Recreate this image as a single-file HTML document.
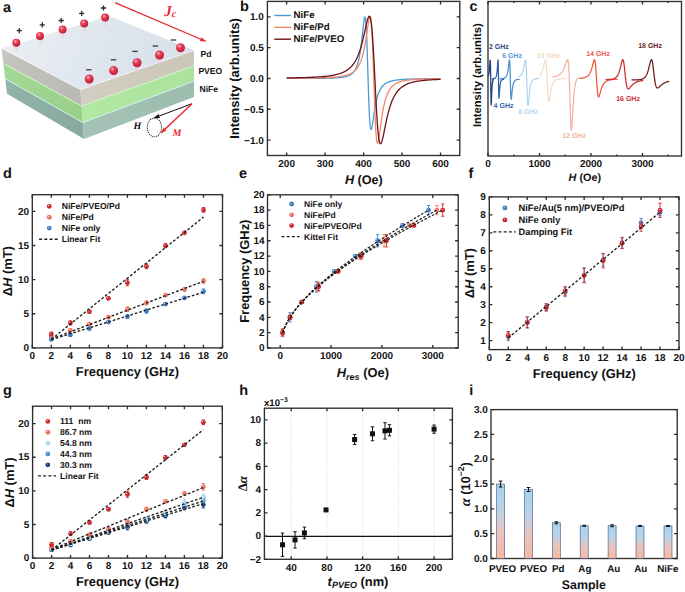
<!DOCTYPE html>
<html><head><meta charset="utf-8"><style>
html,body{margin:0;padding:0;background:#fff;}
svg{display:block;}
text{font-family:"Liberation Sans",sans-serif;font-weight:bold;fill:#111;text-rendering:geometricPrecision;}
</style></head><body>
<svg width="685" height="592" viewBox="0 0 685 592">
<defs><radialGradient id="g_red" cx="0.36" cy="0.33" r="0.72"><stop offset="0" stop-color="#ffffff" stop-opacity="0.85"/><stop offset="0.24" stop-color="#d3282c"/><stop offset="0.75" stop-color="#d3282c"/><stop offset="1" stop-color="#971c1f"/></radialGradient><radialGradient id="g_sal" cx="0.36" cy="0.33" r="0.72"><stop offset="0" stop-color="#ffffff" stop-opacity="0.85"/><stop offset="0.24" stop-color="#f2735e"/><stop offset="0.75" stop-color="#f2735e"/><stop offset="1" stop-color="#ae5243"/></radialGradient><radialGradient id="g_blu" cx="0.36" cy="0.33" r="0.72"><stop offset="0" stop-color="#ffffff" stop-opacity="0.85"/><stop offset="0.24" stop-color="#3d7fc9"/><stop offset="0.75" stop-color="#3d7fc9"/><stop offset="1" stop-color="#2b5b90"/></radialGradient><radialGradient id="g_lbl" cx="0.36" cy="0.33" r="0.72"><stop offset="0" stop-color="#ffffff" stop-opacity="0.85"/><stop offset="0.24" stop-color="#a6d8ee"/><stop offset="0.75" stop-color="#a6d8ee"/><stop offset="1" stop-color="#779bab"/></radialGradient><radialGradient id="g_mbl" cx="0.36" cy="0.33" r="0.72"><stop offset="0" stop-color="#ffffff" stop-opacity="0.85"/><stop offset="0.24" stop-color="#4a93d3"/><stop offset="0.75" stop-color="#4a93d3"/><stop offset="1" stop-color="#356997"/></radialGradient><radialGradient id="g_nav" cx="0.36" cy="0.33" r="0.72"><stop offset="0" stop-color="#ffffff" stop-opacity="0.85"/><stop offset="0.24" stop-color="#1d3a7f"/><stop offset="0.75" stop-color="#1d3a7f"/><stop offset="1" stop-color="#14295b"/></radialGradient><radialGradient id="g_sph" cx="0.38" cy="0.32" r="0.72"><stop offset="0" stop-color="#ffc4cc"/><stop offset="0.3" stop-color="#e8445c"/><stop offset="0.85" stop-color="#c8203a"/><stop offset="1" stop-color="#b01a30"/></radialGradient><linearGradient id="g_bar" x1="0" y1="0" x2="0" y2="1"><stop offset="0" stop-color="#a5d3ea"/><stop offset="0.35" stop-color="#b8d4e6"/><stop offset="0.62" stop-color="#e8c4c0"/><stop offset="1" stop-color="#f6b8a0"/></linearGradient></defs>
<rect width="685" height="592" fill="#fff"/>
<defs>
<linearGradient id="a_top" gradientUnits="userSpaceOnUse" x1="20" y1="30" x2="150" y2="90"><stop offset="0" stop-color="#eaeef3"/><stop offset="0.5" stop-color="#e0e7ee"/><stop offset="1" stop-color="#d9e1eb"/></linearGradient>
<linearGradient id="a_pdL" gradientUnits="userSpaceOnUse" x1="0" y1="50" x2="80" y2="100"><stop offset="0" stop-color="#c6c5c2"/><stop offset="1" stop-color="#b9b8b4"/></linearGradient>
<linearGradient id="a_pdR" gradientUnits="userSpaceOnUse" x1="84" y1="100" x2="194" y2="60"><stop offset="0" stop-color="#d2cec2"/><stop offset="1" stop-color="#cbc6b7"/></linearGradient>
<linearGradient id="a_gL" gradientUnits="userSpaceOnUse" x1="0" y1="65" x2="82" y2="115"><stop offset="0" stop-color="#a3d995"/><stop offset="1" stop-color="#98d08a"/></linearGradient>
<linearGradient id="a_gR" gradientUnits="userSpaceOnUse" x1="84" y1="115" x2="194" y2="75"><stop offset="0" stop-color="#b2e8a3"/><stop offset="1" stop-color="#abe29c"/></linearGradient>
<linearGradient id="a_nL" gradientUnits="userSpaceOnUse" x1="0" y1="80" x2="84" y2="130"><stop offset="0" stop-color="#93b5a9"/><stop offset="1" stop-color="#88aa9e"/></linearGradient>
<linearGradient id="a_nR" gradientUnits="userSpaceOnUse" x1="84" y1="130" x2="194" y2="90"><stop offset="0" stop-color="#a4c3b6"/><stop offset="1" stop-color="#9cbcae"/></linearGradient>
<radialGradient id="a_refl" cx="0.5" cy="0.5" r="0.5"><stop offset="0" stop-color="#f2c4cf" stop-opacity="0.55"/><stop offset="1" stop-color="#f4c8d0" stop-opacity="0"/></radialGradient>
<marker id="a_arR" viewBox="0 0 10 10" refX="9" refY="5" markerWidth="6" markerHeight="6" orient="auto" markerUnits="userSpaceOnUse"><path d="M0,1.5L10,5L0,8.5z" fill="#e8262b"/></marker>
<marker id="a_arK" viewBox="0 0 10 10" refX="9" refY="5" markerWidth="6" markerHeight="6" orient="auto" markerUnits="userSpaceOnUse"><path d="M0,1.5L10,5L0,8.5z" fill="#111"/></marker>
</defs>
<polygon points="1.6,48.2 80.4,89.5 81.6,105.98 3.4,63.38" fill="url(#a_pdL)"/>
<polygon points="3.4,63.38 81.6,105.98 82.8,122.57 5.21,78.66" fill="url(#a_gL)"/>
<polygon points="5.21,78.66 82.8,122.57 84,139 7,93.8" fill="url(#a_nL)"/>
<polygon points="80.4,89.5 194,50.2 194,65.88 81.6,105.98" fill="url(#a_pdR)"/>
<polygon points="81.6,105.98 194,65.88 194,81.18 82.8,122.57" fill="url(#a_gR)"/>
<polygon points="82.8,122.57 194,81.18 194,97 84,139" fill="url(#a_nR)"/>
<polyline points="3.4,63.38 81.6,105.98 194,65.88" fill="none" stroke="#d6f7c8" stroke-width="0.9"/>
<polyline points="5.21,78.66 82.8,122.57 194,81.18" fill="none" stroke="#d2f2f4" stroke-width="0.9"/>
<polygon points="109,16 1.6,48.2 80.4,89.5 194,50.2" fill="url(#a_top)"/>
<polyline points="1.6,48.2 80.4,89.5 194,50.2" fill="none" stroke="#f6f8fa" stroke-width="0.8"/>
<ellipse cx="16.6" cy="48.8" rx="3.2" ry="4.0" fill="url(#a_refl)"/>
<ellipse cx="40.3" cy="41.9" rx="3.2" ry="4.0" fill="url(#a_refl)"/>
<ellipse cx="62.9" cy="35.6" rx="3.2" ry="4.0" fill="url(#a_refl)"/>
<ellipse cx="84.5" cy="29.5" rx="3.2" ry="4.0" fill="url(#a_refl)"/>
<ellipse cx="105.4" cy="23.6" rx="3.2" ry="4.0" fill="url(#a_refl)"/>
<ellipse cx="89.5" cy="85" rx="3.2" ry="4.0" fill="url(#a_refl)"/>
<ellipse cx="113.9" cy="76.6" rx="3.2" ry="4.0" fill="url(#a_refl)"/>
<ellipse cx="137.3" cy="68.7" rx="3.2" ry="4.0" fill="url(#a_refl)"/>
<ellipse cx="159.8" cy="61" rx="3.2" ry="4.0" fill="url(#a_refl)"/>
<ellipse cx="180.8" cy="53.8" rx="3.2" ry="4.0" fill="url(#a_refl)"/>
<circle cx="16.3" cy="42.8" r="4.0" fill="url(#g_sph)"/>
<circle cx="40" cy="35.9" r="4.0" fill="url(#g_sph)"/>
<circle cx="62.6" cy="29.6" r="4.0" fill="url(#g_sph)"/>
<circle cx="84.2" cy="23.5" r="4.0" fill="url(#g_sph)"/>
<circle cx="105.1" cy="17.6" r="4.0" fill="url(#g_sph)"/>
<circle cx="89.2" cy="79" r="4.5" fill="url(#g_sph)"/>
<circle cx="113.6" cy="70.6" r="4.5" fill="url(#g_sph)"/>
<circle cx="137" cy="62.7" r="4.5" fill="url(#g_sph)"/>
<circle cx="159.5" cy="55" r="4.5" fill="url(#g_sph)"/>
<circle cx="180.5" cy="47.8" r="4.5" fill="url(#g_sph)"/>
<path d="M16.7 30.7h5.2M19.3 28.1v5.2" stroke="#2a2a2a" stroke-width="1.3"/>
<path d="M39.7 24.8h5.2M42.3 22.2v5.2" stroke="#2a2a2a" stroke-width="1.3"/>
<path d="M58.6 20.5h5.2M61.2 17.9v5.2" stroke="#2a2a2a" stroke-width="1.3"/>
<path d="M79.1 13.4h5.2M81.7 10.8v5.2" stroke="#2a2a2a" stroke-width="1.3"/>
<path d="M100.9 8h5.2M103.5 5.4v5.2" stroke="#2a2a2a" stroke-width="1.3"/>
<path d="M86.1 69.8h5.4" stroke="#3a3a3a" stroke-width="1.3"/>
<path d="M110.8 59.8h5.4" stroke="#3a3a3a" stroke-width="1.3"/>
<path d="M132.4 51.4h5.4" stroke="#3a3a3a" stroke-width="1.3"/>
<path d="M152.7 46h5.4" stroke="#3a3a3a" stroke-width="1.3"/>
<path d="M170.8 40h5.4" stroke="#3a3a3a" stroke-width="1.3"/>
<line x1="115" y1="2.6" x2="205.6" y2="41.2" stroke="#e8262b" stroke-width="1.2" marker-end="url(#a_arR)"/>
<text x="164.3" y="16.2" font-size="15" style="font-family:'Liberation Serif',serif;font-style:italic;font-weight:bold;fill:#e8262b">J<tspan font-size="10" dy="0.8">c</tspan></text>
<text x="200.6" y="57.1" font-size="8.6">Pd</text>
<text x="198.4" y="74.1" font-size="8.6">PVEO</text>
<text x="199.5" y="91.6" font-size="8.6">NiFe</text>
<line x1="192" y1="103.7" x2="154.2" y2="117.9" stroke="#111" stroke-width="1.0" marker-end="url(#a_arK)"/>
<line x1="192" y1="103.7" x2="161.2" y2="132.8" stroke="#e8262b" stroke-width="1.45" marker-end="url(#a_arR)"/>
<ellipse cx="154.4" cy="127.4" rx="7.1" ry="9.4" fill="none" stroke="#111" stroke-width="1.05" stroke-dasharray="1,1"/>
<text x="133.4" y="129.2" font-size="10" style="font-family:'Liberation Serif',serif;font-style:italic;font-weight:bold;fill:#111">H</text>
<text x="172.6" y="135.7" font-size="10" style="font-family:'Liberation Serif',serif;font-style:italic;font-weight:bold;fill:#e8262b">M</text>
<text x="240" y="11.1" font-size="14.5">b</text>
<rect x="267.4" y="1.4" width="192.4" height="154.1" fill="none" stroke="#2e2e2e" stroke-width="1.35"/>
<path d="M286.64 155.5v-3.1M286.64 1.4v3.1M325.12 155.5v-3.1M325.12 1.4v3.1M363.6 155.5v-3.1M363.6 1.4v3.1M402.08 155.5v-3.1M402.08 1.4v3.1M440.56 155.5v-3.1M440.56 1.4v3.1" stroke="#2e2e2e" stroke-width="1.35" fill="none"/>
<text x="286.64" y="167.3" font-size="10" text-anchor="middle">200</text>
<text x="325.12" y="167.3" font-size="10" text-anchor="middle">300</text>
<text x="363.6" y="167.3" font-size="10" text-anchor="middle">400</text>
<text x="402.08" y="167.3" font-size="10" text-anchor="middle">500</text>
<text x="440.56" y="167.3" font-size="10" text-anchor="middle">600</text>
<path d="M267.4 140.09h3.1M459.8 140.09h-3.1M267.4 109.27h3.1M459.8 109.27h-3.1M267.4 78.45h3.1M459.8 78.45h-3.1M267.4 47.63h3.1M459.8 47.63h-3.1M267.4 16.81h3.1M459.8 16.81h-3.1" stroke="#2e2e2e" stroke-width="1.35" fill="none"/>
<text x="263.8" y="143.59" font-size="10" text-anchor="end">&#8722;1.0</text>
<text x="263.8" y="112.77" font-size="10" text-anchor="end">&#8722;0.5</text>
<text x="263.8" y="81.95" font-size="10" text-anchor="end">0.0</text>
<text x="263.8" y="51.13" font-size="10" text-anchor="end">0.5</text>
<text x="263.8" y="20.31" font-size="10" text-anchor="end">1.0</text>
<polyline points="286.64,78.45 288.5,78.45 290.36,78.45 292.21,78.44 294.07,78.44 295.93,78.44 297.79,78.44 299.64,78.43 301.5,78.43 303.36,78.42 305.22,78.42 307.07,78.41 308.93,78.4 310.79,78.39 312.65,78.38 314.5,78.37 316.36,78.36 318.22,78.34 320.08,78.32 321.94,78.3 323.79,78.27 325.65,78.24 327.51,78.2 329.37,78.15 331.22,78.09 333.08,78.02 334.94,77.93 336.8,77.82 338.65,77.67 340.51,77.49 340.7,77.47 340.9,77.44 341.09,77.42 341.28,77.4 341.47,77.37 341.67,77.35 341.86,77.32 342.05,77.29 342.24,77.27 342.44,77.24 342.63,77.21 342.82,77.18 343.01,77.15 343.21,77.12 343.4,77.08 343.59,77.05 343.78,77.01 343.98,76.98 344.17,76.94 344.36,76.9 344.55,76.86 344.74,76.82 344.94,76.78 345.13,76.73 345.32,76.69 345.51,76.64 345.71,76.6 345.9,76.55 346.09,76.49 346.28,76.44 346.48,76.39 346.67,76.33 346.86,76.27 347.05,76.21 347.25,76.15 347.44,76.08 347.63,76.02 347.82,75.95 348.02,75.87 348.21,75.8 348.4,75.72 348.59,75.64 348.79,75.56 348.98,75.47 349.17,75.38 349.36,75.29 349.55,75.19 349.75,75.09 349.94,74.99 350.13,74.88 350.32,74.77 350.52,74.65 350.71,74.53 350.9,74.41 351.09,74.27 351.29,74.14 351.48,74 351.67,73.85 351.86,73.69 352.06,73.53 352.25,73.37 352.44,73.19 352.63,73.01 352.83,72.82 353.02,72.62 353.21,72.41 353.4,72.2 353.6,71.97 353.79,71.74 353.98,71.49 354.17,71.23 354.36,70.96 354.56,70.68 354.75,70.39 354.94,70.08 355.13,69.75 355.33,69.41 355.52,69.06 355.71,68.68 355.9,68.29 356.1,67.88 356.29,67.45 356.48,67 356.67,66.53 356.87,66.03 357.06,65.51 357.25,64.96 357.44,64.38 357.64,63.77 357.83,63.14 358.02,62.47 358.21,61.76 358.41,61.02 358.6,60.24 358.79,59.43 358.98,58.57 359.17,57.67 359.37,56.72 359.56,55.72 359.75,54.68 359.94,53.58 360.14,52.44 360.33,51.23 360.52,49.98 360.71,48.66 360.91,47.29 361.1,45.87 361.29,44.38 361.48,42.84 361.68,41.25 361.87,39.61 362.06,37.92 362.25,36.19 362.45,34.43 362.64,32.65 362.83,30.86 363.02,29.07 363.22,27.31 363.41,25.59 363.6,23.93 363.79,22.37 363.98,20.93 364.18,19.66 364.37,18.58 364.56,17.75 364.75,17.2 364.95,16.99 365.14,17.16 365.33,17.75 365.52,18.81 365.72,20.38 365.91,22.49 366.1,25.16 366.29,28.39 366.49,32.2 366.68,36.55 366.87,41.4 367.06,46.72 367.26,52.42 367.45,58.43 367.64,64.65 367.83,70.98 368.03,77.33 368.22,83.58 368.41,89.64 368.6,95.43 368.79,100.86 368.99,105.87 369.18,110.42 369.37,114.48 369.56,118.02 369.76,121.04 369.95,123.56 370.14,125.58 370.33,127.15 370.53,128.28 370.72,129.02 370.91,129.41 371.1,129.49 371.3,129.29 371.49,128.85 371.68,128.21 371.87,127.4 372.07,126.45 372.26,125.39 372.45,124.25 372.64,123.03 372.84,121.77 373.03,120.48 373.22,119.18 373.41,117.86 373.6,116.55 373.8,115.26 373.99,113.98 374.18,112.72 374.37,111.49 374.57,110.3 374.76,109.14 374.95,108.01 375.14,106.92 375.34,105.87 375.53,104.85 375.72,103.87 375.91,102.93 376.11,102.03 376.3,101.16 376.49,100.33 376.68,99.53 376.88,98.76 377.07,98.02 377.26,97.32 377.45,96.64 377.65,96 377.84,95.38 378.03,94.78 378.22,94.22 378.41,93.67 378.61,93.15 378.8,92.65 378.99,92.17 379.18,91.71 379.38,91.27 379.57,90.85 379.76,90.45 379.95,90.06 380.15,89.69 380.34,89.34 380.53,88.99 380.72,88.67 380.92,88.35 381.11,88.05 381.3,87.76 381.49,87.48 381.69,87.21 381.88,86.95 382.07,86.7 382.26,86.47 382.46,86.24 382.65,86.02 382.84,85.8 383.03,85.6 383.22,85.4 383.42,85.21 383.61,85.03 383.8,84.85 383.99,84.68 384.19,84.52 384.38,84.36 384.57,84.21 384.76,84.06 384.96,83.92 385.15,83.78 385.34,83.64 385.53,83.52 385.73,83.39 385.92,83.27 386.11,83.16 386.3,83.04 386.5,82.93 386.69,82.83 386.88,82.73 387.07,82.63 387.27,82.53 387.46,82.44 387.65,82.35 387.84,82.26 388.03,82.18 388.23,82.1 388.42,82.02 388.61,81.94 388.8,81.86 389,81.79 389.19,81.72 389.38,81.65 389.57,81.59 389.77,81.52 389.96,81.46 390.15,81.4 390.34,81.34 390.54,81.28 390.92,81.17 392.19,80.84 393.47,80.57 394.74,80.34 396.01,80.14 397.28,79.97 398.56,79.82 399.83,79.69 401.1,79.58 402.38,79.49 403.65,79.4 404.92,79.32 406.19,79.26 407.47,79.19 408.74,79.14 410.01,79.09 411.29,79.05 412.56,79.01 413.83,78.97 415.1,78.94 416.38,78.91 417.65,78.88 418.92,78.86 420.2,78.83 421.47,78.81 422.74,78.79 424.01,78.78 425.29,78.76 426.56,78.74 427.83,78.73 429.1,78.72 430.38,78.7 431.65,78.69 432.92,78.68 434.2,78.67 435.47,78.66 436.74,78.65 438.01,78.64 439.29,78.64 440.56,78.63" fill="none" stroke="#4a9ad6" stroke-width="1.3" stroke-linejoin="round"/>
<polyline points="286.64,78.27 288.5,78.26 290.36,78.25 292.21,78.24 294.07,78.22 295.93,78.21 297.79,78.2 299.64,78.18 301.5,78.16 303.36,78.14 305.22,78.12 307.07,78.1 308.93,78.07 310.79,78.04 312.65,78.01 314.5,77.98 316.36,77.94 318.22,77.89 320.08,77.84 321.94,77.79 323.79,77.72 325.65,77.65 327.51,77.57 329.37,77.47 331.22,77.36 333.08,77.23 334.94,77.08 336.8,76.9 338.65,76.69 340.51,76.44 340.7,76.41 340.9,76.38 341.09,76.35 341.28,76.32 341.47,76.29 341.67,76.26 341.86,76.22 342.05,76.19 342.24,76.15 342.44,76.12 342.63,76.08 342.82,76.05 343.01,76.01 343.21,75.97 343.4,75.93 343.59,75.9 343.78,75.85 343.98,75.81 344.17,75.77 344.36,75.73 344.55,75.68 344.74,75.64 344.94,75.59 345.13,75.55 345.32,75.5 345.51,75.45 345.71,75.4 345.9,75.35 346.09,75.3 346.28,75.24 346.48,75.19 346.67,75.13 346.86,75.07 347.05,75.01 347.25,74.95 347.44,74.89 347.63,74.83 347.82,74.76 348.02,74.7 348.21,74.63 348.4,74.56 348.59,74.48 348.79,74.41 348.98,74.34 349.17,74.26 349.36,74.18 349.55,74.1 349.75,74.01 349.94,73.93 350.13,73.84 350.32,73.75 350.52,73.66 350.71,73.56 350.9,73.47 351.09,73.36 351.29,73.26 351.48,73.16 351.67,73.05 351.86,72.93 352.06,72.82 352.25,72.7 352.44,72.58 352.63,72.45 352.83,72.33 353.02,72.19 353.21,72.06 353.4,71.92 353.6,71.77 353.79,71.62 353.98,71.47 354.17,71.31 354.36,71.15 354.56,70.98 354.75,70.81 354.94,70.63 355.13,70.45 355.33,70.26 355.52,70.06 355.71,69.86 355.9,69.65 356.1,69.44 356.29,69.22 356.48,68.99 356.67,68.75 356.87,68.51 357.06,68.26 357.25,68 357.44,67.73 357.64,67.45 357.83,67.16 358.02,66.86 358.21,66.56 358.41,66.24 358.6,65.91 358.79,65.57 358.98,65.21 359.17,64.85 359.37,64.47 359.56,64.08 359.75,63.67 359.94,63.25 360.14,62.82 360.33,62.37 360.52,61.9 360.71,61.41 360.91,60.91 361.1,60.39 361.29,59.85 361.48,59.29 361.68,58.71 361.87,58.11 362.06,57.49 362.25,56.84 362.45,56.17 362.64,55.48 362.83,54.76 363.02,54.01 363.22,53.24 363.41,52.44 363.6,51.61 363.79,50.75 363.98,49.86 364.18,48.95 364.37,48 364.56,47.02 364.75,46.01 364.95,44.96 365.14,43.89 365.33,42.78 365.52,41.65 365.72,40.48 365.91,39.28 366.1,38.06 366.29,36.81 366.49,35.54 366.68,34.24 366.87,32.94 367.06,31.61 367.26,30.28 367.45,28.95 367.64,27.63 367.83,26.32 368.03,25.03 368.22,23.78 368.41,22.58 368.6,21.43 368.79,20.36 368.99,19.38 369.18,18.51 369.37,17.78 369.56,17.19 369.76,16.78 369.95,16.57 370.14,16.58 370.33,16.85 370.53,17.39 370.72,18.23 370.91,19.39 371.1,20.9 371.3,22.79 371.49,25.05 371.68,27.71 371.87,30.77 372.07,34.23 372.26,38.09 372.45,42.32 372.64,46.91 372.84,51.83 373.03,57.03 373.22,62.47 373.41,68.11 373.6,73.87 373.8,79.7 373.99,85.54 374.18,91.33 374.37,96.99 374.57,102.47 374.76,107.72 374.95,112.69 375.14,117.33 375.34,121.62 375.53,125.53 375.72,129.04 375.91,132.14 376.11,134.82 376.3,137.11 376.49,138.99 376.68,140.5 376.88,141.64 377.07,142.45 377.26,142.95 377.45,143.15 377.65,143.1 377.84,142.81 378.03,142.32 378.22,141.65 378.41,140.81 378.61,139.85 378.8,138.76 378.99,137.59 379.18,136.34 379.38,135.02 379.57,133.66 379.76,132.27 379.95,130.86 380.15,129.43 380.34,128 380.53,126.57 380.72,125.16 380.92,123.76 381.11,122.38 381.3,121.02 381.49,119.69 381.69,118.39 381.88,117.13 382.07,115.89 382.26,114.69 382.46,113.52 382.65,112.39 382.84,111.29 383.03,110.22 383.22,109.2 383.42,108.2 383.61,107.24 383.8,106.31 383.99,105.42 384.19,104.55 384.38,103.72 384.57,102.91 384.76,102.14 384.96,101.39 385.15,100.67 385.34,99.98 385.53,99.31 385.73,98.66 385.92,98.04 386.11,97.44 386.3,96.87 386.5,96.31 386.69,95.78 386.88,95.26 387.07,94.76 387.27,94.29 387.46,93.82 387.65,93.38 387.84,92.95 388.03,92.54 388.23,92.14 388.42,91.75 388.61,91.38 388.8,91.02 389,90.68 389.19,90.34 389.38,90.02 389.57,89.71 389.77,89.41 389.96,89.12 390.15,88.84 390.34,88.56 390.54,88.3 390.92,87.8 392.19,86.37 393.47,85.21 394.74,84.26 396.01,83.48 397.28,82.83 398.56,82.29 399.83,81.83 401.1,81.45 402.38,81.12 403.65,80.83 404.92,80.59 406.19,80.38 407.47,80.19 408.74,80.03 410.01,79.89 411.29,79.76 412.56,79.65 413.83,79.55 415.1,79.46 416.38,79.38 417.65,79.31 418.92,79.25 420.2,79.19 421.47,79.14 422.74,79.09 424.01,79.05 425.29,79.01 426.56,78.97 427.83,78.94 429.1,78.91 430.38,78.88 431.65,78.86 432.92,78.83 434.2,78.81 435.47,78.79 436.74,78.77 438.01,78.75 439.29,78.74 440.56,78.72" fill="none" stroke="#f2876a" stroke-width="1.3" stroke-linejoin="round"/>
<polyline points="286.64,77.94 288.5,77.91 290.36,77.88 292.21,77.85 294.07,77.82 295.93,77.78 297.79,77.74 299.64,77.69 301.5,77.64 303.36,77.59 305.22,77.53 307.07,77.47 308.93,77.4 310.79,77.32 312.65,77.24 314.5,77.14 316.36,77.04 318.22,76.92 320.08,76.79 321.94,76.64 323.79,76.48 325.65,76.29 327.51,76.08 329.37,75.84 331.22,75.56 333.08,75.24 334.94,74.87 336.8,74.44 338.65,73.93 340.51,73.34 340.7,73.27 340.9,73.2 341.09,73.13 341.28,73.06 341.47,72.99 341.67,72.91 341.86,72.84 342.05,72.76 342.24,72.68 342.44,72.6 342.63,72.52 342.82,72.44 343.01,72.36 343.21,72.27 343.4,72.18 343.59,72.1 343.78,72 343.98,71.91 344.17,71.82 344.36,71.72 344.55,71.62 344.74,71.52 344.94,71.42 345.13,71.32 345.32,71.21 345.51,71.11 345.71,71 345.9,70.88 346.09,70.77 346.28,70.65 346.48,70.53 346.67,70.41 346.86,70.29 347.05,70.16 347.25,70.03 347.44,69.9 347.63,69.76 347.82,69.63 348.02,69.49 348.21,69.34 348.4,69.2 348.59,69.05 348.79,68.9 348.98,68.74 349.17,68.58 349.36,68.42 349.55,68.25 349.75,68.08 349.94,67.91 350.13,67.73 350.32,67.55 350.52,67.36 350.71,67.17 350.9,66.98 351.09,66.78 351.29,66.58 351.48,66.37 351.67,66.16 351.86,65.94 352.06,65.72 352.25,65.49 352.44,65.26 352.63,65.02 352.83,64.78 353.02,64.53 353.21,64.28 353.4,64.02 353.6,63.75 353.79,63.48 353.98,63.2 354.17,62.92 354.36,62.62 354.56,62.32 354.75,62.02 354.94,61.7 355.13,61.38 355.33,61.05 355.52,60.72 355.71,60.37 355.9,60.02 356.1,59.66 356.29,59.29 356.48,58.91 356.67,58.52 356.87,58.12 357.06,57.71 357.25,57.3 357.44,56.87 357.64,56.43 357.83,55.98 358.02,55.52 358.21,55.05 358.41,54.57 358.6,54.08 358.79,53.58 358.98,53.06 359.17,52.53 359.37,51.99 359.56,51.44 359.75,50.87 359.94,50.29 360.14,49.7 360.33,49.09 360.52,48.48 360.71,47.84 360.91,47.2 361.1,46.54 361.29,45.86 361.48,45.17 361.68,44.47 361.87,43.76 362.06,43.03 362.25,42.28 362.45,41.52 362.64,40.75 362.83,39.97 363.02,39.17 363.22,38.37 363.41,37.54 363.6,36.71 363.79,35.87 363.98,35.02 364.18,34.16 364.37,33.29 364.56,32.42 364.75,31.54 364.95,30.65 365.14,29.77 365.33,28.89 365.52,28 365.72,27.12 365.91,26.25 366.1,25.39 366.29,24.54 366.49,23.71 366.68,22.89 366.87,22.1 367.06,21.34 367.26,20.61 367.45,19.91 367.64,19.26 367.83,18.65 368.03,18.1 368.22,17.61 368.41,17.18 368.6,16.82 368.79,16.54 368.99,16.35 369.18,16.25 369.37,16.25 369.56,16.36 369.76,16.58 369.95,16.93 370.14,17.41 370.33,18.02 370.53,18.79 370.72,19.7 370.91,20.77 371.1,22.01 371.3,23.42 371.49,25 371.68,26.75 371.87,28.69 372.07,30.8 372.26,33.09 372.45,35.56 372.64,38.2 372.84,41.01 373.03,43.98 373.22,47.1 373.41,50.37 373.6,53.78 373.8,57.3 373.99,60.93 374.18,64.65 374.37,68.45 374.57,72.3 374.76,76.19 374.95,80.11 375.14,84.02 375.34,87.92 375.53,91.78 375.72,95.59 375.91,99.33 376.11,102.98 376.3,106.52 376.49,109.94 376.68,113.23 376.88,116.38 377.07,119.37 377.26,122.19 377.45,124.85 377.65,127.33 377.84,129.63 378.03,131.75 378.22,133.68 378.41,135.43 378.61,137 378.8,138.39 378.99,139.61 379.18,140.66 379.38,141.54 379.57,142.27 379.76,142.85 379.95,143.28 380.15,143.58 380.34,143.74 380.53,143.79 380.72,143.73 380.92,143.56 381.11,143.3 381.3,142.95 381.49,142.52 381.69,142.01 381.88,141.44 382.07,140.8 382.26,140.11 382.46,139.38 382.65,138.6 382.84,137.79 383.03,136.94 383.22,136.07 383.42,135.17 383.61,134.26 383.8,133.33 383.99,132.39 384.19,131.44 384.38,130.49 384.57,129.53 384.76,128.57 384.96,127.61 385.15,126.66 385.34,125.71 385.53,124.77 385.73,123.84 385.92,122.92 386.11,122.01 386.3,121.11 386.5,120.22 386.69,119.34 386.88,118.48 387.07,117.63 387.27,116.8 387.46,115.98 387.65,115.18 387.84,114.39 388.03,113.62 388.23,112.86 388.42,112.12 388.61,111.39 388.8,110.68 389,109.99 389.19,109.31 389.38,108.64 389.57,107.99 389.77,107.36 389.96,106.74 390.15,106.13 390.34,105.54 390.54,104.96 390.92,103.84 392.19,100.52 393.47,97.69 394.74,95.29 396.01,93.24 397.28,91.5 398.56,90.01 399.83,88.73 401.1,87.62 402.38,86.67 403.65,85.84 404.92,85.12 406.19,84.48 407.47,83.93 408.74,83.44 410.01,83 411.29,82.62 412.56,82.28 413.83,81.97 415.1,81.69 416.38,81.45 417.65,81.22 418.92,81.02 420.2,80.84 421.47,80.68 422.74,80.53 424.01,80.39 425.29,80.26 426.56,80.15 427.83,80.04 429.1,79.95 430.38,79.86 431.65,79.78 432.92,79.7 434.2,79.63 435.47,79.57 436.74,79.51 438.01,79.45 439.29,79.4 440.56,79.35" fill="none" stroke="#6e1216" stroke-width="1.3" stroke-linejoin="round"/>
<line x1="274.3" y1="15.5" x2="291" y2="15.5" stroke="#4a9ad6" stroke-width="1.4"/>
<text x="293.6" y="17.8" font-size="9.7" text-anchor="start" >NiFe</text>
<line x1="274.3" y1="27.35" x2="291" y2="27.35" stroke="#f2876a" stroke-width="1.4"/>
<text x="293.6" y="29.65" font-size="9.7" text-anchor="start" >NiFe/Pd</text>
<line x1="274.3" y1="39.2" x2="291" y2="39.2" stroke="#6e1216" stroke-width="1.4"/>
<text x="293.6" y="41.5" font-size="9.7" text-anchor="start" >NiFe/PVEO</text>
<text transform="translate(239.3,78.5) rotate(-90)" x="0" y="0" font-size="13" text-anchor="middle" >Intensity (arb.units)</text>
<text x="363.9" y="184.2" font-size="12.6" text-anchor="middle" ><tspan font-style="italic">H</tspan> (Oe)</text>
<text x="469.6" y="11.1" font-size="14.5">c</text>
<rect x="488" y="1.5" width="193.5" height="154.5" fill="none" stroke="#2e2e2e" stroke-width="1.35"/>
<path d="M488 156v-3.1M488 1.5v3.1M539.5 156v-3.1M539.5 1.5v3.1M591.01 156v-3.1M591.01 1.5v3.1M642.51 156v-3.1M642.51 1.5v3.1" stroke="#2e2e2e" stroke-width="1.35" fill="none"/>
<text x="488" y="167.1" font-size="10" text-anchor="middle">0</text>
<text x="539.5" y="167.1" font-size="10" text-anchor="middle">1000</text>
<text x="591.01" y="167.1" font-size="10" text-anchor="middle">2000</text>
<text x="642.51" y="167.1" font-size="10" text-anchor="middle">3000</text>
<path d="M513.75 156v-1.6M513.75 1.5v1.6M565.26 156v-1.6M565.26 1.5v1.6M616.76 156v-1.6M616.76 1.5v1.6M668.26 156v-1.6M668.26 1.5v1.6" stroke="#2e2e2e" stroke-width="1.35" fill="none"/>
<text transform="translate(481.2,75.2) rotate(-90)" x="0" y="0" font-size="11.2" text-anchor="middle" >Intensity (arb.units)</text>
<text x="584.8" y="181.3" font-size="10.8" text-anchor="middle" ><tspan font-style="italic">H</tspan> (Oe)</text>
<polyline points="488,76.43 488.02,76.4 488.04,76.36 488.06,76.32 488.08,76.29 488.1,76.25 488.12,76.21 488.14,76.17 488.16,76.13 488.18,76.09 488.19,76.05 488.21,76.01 488.23,75.96 488.25,75.92 488.27,75.87 488.29,75.82 488.31,75.78 488.33,75.73 488.35,75.68 488.37,75.62 488.39,75.57 488.41,75.52 488.43,75.46 488.45,75.4 488.47,75.35 488.49,75.29 488.51,75.23 488.53,75.16 488.55,75.1 488.56,75.03 488.58,74.97 488.6,74.9 488.62,74.83 488.64,74.75 488.66,74.68 488.68,74.6 488.7,74.53 488.72,74.45 488.74,74.36 488.76,74.28 488.78,74.19 488.8,74.11 488.82,74.01 488.84,73.92 488.86,73.83 488.88,73.73 488.9,73.63 488.91,73.52 488.93,73.42 488.95,73.31 488.97,73.2 488.99,73.08 489.01,72.97 489.03,72.84 489.05,72.72 489.07,72.59 489.09,72.46 489.11,72.33 489.13,72.19 489.15,72.05 489.17,71.91 489.19,71.76 489.21,71.6 489.23,71.45 489.25,71.29 489.27,71.12 489.28,70.95 489.3,70.78 489.32,70.6 489.34,70.42 489.36,70.23 489.38,70.04 489.4,69.84 489.42,69.64 489.44,69.43 489.46,69.22 489.48,69.01 489.5,68.78 489.52,68.56 489.54,68.33 489.56,68.09 489.58,67.85 489.6,67.6 489.62,67.35 489.64,67.1 489.65,66.84 489.67,66.57 489.69,66.3 489.71,66.03 489.73,65.75 489.75,65.47 489.77,65.19 489.79,64.91 489.81,64.62 489.83,64.33 489.85,64.04 489.87,63.76 489.89,63.47 489.91,63.18 489.93,62.9 489.95,62.62 489.97,62.35 489.99,62.09 490,61.83 490.02,61.59 490.04,61.35 490.06,61.14 490.08,60.93 490.1,60.75 490.12,60.59 490.14,60.45 490.16,60.34 490.18,60.26 490.2,60.21 490.22,60.2 490.24,60.23 490.26,60.3 490.28,60.42 490.3,60.59 490.32,60.82 490.34,61.1 490.36,61.45 490.37,61.86 490.39,62.34 490.41,62.89 490.43,63.51 490.45,64.21 490.47,64.98 490.49,65.84 490.51,66.77 490.53,67.78 490.55,68.87 490.57,70.03 490.59,71.26 490.61,72.57 490.63,73.93 490.65,75.35 490.67,76.82 490.69,78.34 490.71,79.89 490.73,81.46 490.74,83.05 490.76,84.64 490.78,86.24 490.8,87.81 490.82,89.36 490.84,90.88 490.86,92.35 490.88,93.76 490.9,95.11 490.92,96.4 490.94,97.6 490.96,98.72 490.98,99.75 491,100.7 491.02,101.54 491.04,102.3 491.06,102.95 491.08,103.51 491.09,103.98 491.11,104.35 491.13,104.64 491.15,104.84 491.17,104.96 491.19,105 491.21,104.97 491.23,104.87 491.25,104.71 491.27,104.5 491.29,104.23 491.31,103.92 491.33,103.57 491.35,103.18 491.37,102.75 491.39,102.31 491.41,101.83 491.43,101.34 491.45,100.84 491.46,100.32 491.48,99.79 491.5,99.26 491.52,98.72 491.54,98.18 491.56,97.64 491.58,97.11 491.6,96.58 491.62,96.05 491.64,95.53 491.66,95.02 491.68,94.52 491.7,94.03 491.72,93.54 491.74,93.07 491.76,92.61 491.78,92.16 491.8,91.73 491.82,91.3 491.83,90.88 491.85,90.48 491.87,90.09 491.89,89.71 491.91,89.35 491.93,88.99 491.95,88.65 491.97,88.31 491.99,87.99 492.01,87.68 492.03,87.38 492.05,87.08 492.07,86.8 492.09,86.53 492.11,86.27 492.13,86.01 492.15,85.77 492.17,85.53 492.18,85.31 492.2,85.09 492.22,84.87 492.24,84.67 492.26,84.47 492.28,84.28 492.3,84.1 492.32,83.92 492.34,83.75 492.36,83.58 492.38,83.42 492.4,83.27 492.42,83.12 492.44,82.98 492.46,82.84 492.48,82.71 492.5,82.58 492.52,82.45 492.54,82.33 492.55,82.22 492.57,82.11 492.59,82 492.61,81.89 492.63,81.79 492.65,81.7 492.67,81.6 492.69,81.51 492.71,81.42 492.73,81.34 492.75,81.26 492.77,81.18 492.79,81.1 492.81,81.03 492.83,80.96 492.85,80.89 492.87,80.82 492.89,80.76 492.91,80.69 492.92,80.63 492.94,80.58 492.96,80.52 492.98,80.46 493,80.41 493.02,80.36 493.04,80.31 493.06,80.26 493.08,80.21 493.1,80.17 493.12,80.12 493.14,80.08 493.16,80.04 493.18,80 493.2,79.96 493.22,79.92 493.24,79.89 493.26,79.85 493.27,79.82 493.29,79.79 493.31,79.75 493.33,79.72 493.35,79.69 493.37,79.66 493.39,79.63 493.41,79.61 493.43,79.58 493.45,79.55 493.47,79.53 493.49,79.5 493.51,79.48 493.53,79.46 493.55,79.43 493.57,79.41 493.59,79.39 493.61,79.37 493.63,79.35 493.64,79.33 493.66,79.31 493.68,79.29 493.7,79.27 493.72,79.26 493.74,79.24 493.76,79.22 493.78,79.21 493.8,79.19 493.82,79.17" fill="none" stroke="#1f3c7c" stroke-width="1.25" stroke-linejoin="round"/>
<polyline points="491.61,78.87 491.65,78.87 491.69,78.87 491.73,78.87 491.77,78.86 491.82,78.86 491.86,78.86 491.9,78.86 491.94,78.85 491.99,78.85 492.03,78.85 492.07,78.84 492.11,78.84 492.15,78.84 492.2,78.84 492.24,78.83 492.28,78.83 492.32,78.83 492.36,78.82 492.41,78.82 492.45,78.81 492.49,78.81 492.53,78.81 492.58,78.8 492.62,78.8 492.66,78.79 492.7,78.79 492.74,78.79 492.79,78.78 492.83,78.78 492.87,78.77 492.91,78.77 492.96,78.76 493,78.76 493.04,78.75 493.08,78.75 493.12,78.74 493.17,78.73 493.21,78.73 493.25,78.72 493.29,78.71 493.34,78.71 493.38,78.7 493.42,78.69 493.46,78.69 493.5,78.68 493.55,78.67 493.59,78.66 493.63,78.65 493.67,78.65 493.72,78.64 493.76,78.63 493.8,78.62 493.84,78.61 493.88,78.6 493.93,78.59 493.97,78.58 494.01,78.57 494.05,78.55 494.1,78.54 494.14,78.53 494.18,78.52 494.22,78.5 494.26,78.49 494.31,78.47 494.35,78.46 494.39,78.44 494.43,78.43 494.48,78.41 494.52,78.39 494.56,78.37 494.6,78.36 494.64,78.34 494.69,78.32 494.73,78.29 494.77,78.27 494.81,78.25 494.85,78.22 494.9,78.2 494.94,78.17 494.98,78.15 495.02,78.12 495.07,78.09 495.11,78.06 495.15,78.02 495.19,77.99 495.23,77.95 495.28,77.92 495.32,77.88 495.36,77.84 495.4,77.79 495.45,77.75 495.49,77.7 495.53,77.65 495.57,77.6 495.61,77.54 495.66,77.49 495.7,77.43 495.74,77.36 495.78,77.3 495.83,77.23 495.87,77.15 495.91,77.07 495.95,76.99 495.99,76.91 496.04,76.81 496.08,76.72 496.12,76.61 496.16,76.51 496.21,76.39 496.25,76.27 496.29,76.14 496.33,76.01 496.37,75.86 496.42,75.71 496.46,75.55 496.5,75.38 496.54,75.19 496.59,75 496.63,74.79 496.67,74.57 496.71,74.34 496.75,74.09 496.8,73.83 496.84,73.55 496.88,73.25 496.92,72.93 496.96,72.59 497.01,72.24 497.05,71.86 497.09,71.45 497.13,71.02 497.18,70.57 497.22,70.09 497.26,69.58 497.3,69.04 497.34,68.48 497.39,67.89 497.43,67.28 497.47,66.64 497.51,65.98 497.56,65.31 497.6,64.62 497.64,63.93 497.68,63.25 497.72,62.59 497.77,61.95 497.81,61.37 497.85,60.86 497.89,60.45 497.94,60.15 497.98,60.01 498.02,60.05 498.06,60.29 498.1,60.78 498.15,61.54 498.19,62.58 498.23,63.93 498.27,65.58 498.32,67.53 498.36,69.75 498.4,72.19 498.44,74.81 498.48,77.55 498.53,80.32 498.57,83.07 498.61,85.71 498.65,88.18 498.7,90.43 498.74,92.42 498.78,94.11 498.82,95.49 498.86,96.58 498.91,97.36 498.95,97.88 498.99,98.14 499.03,98.19 499.08,98.06 499.12,97.77 499.16,97.35 499.2,96.84 499.24,96.25 499.29,95.61 499.33,94.94 499.37,94.24 499.41,93.54 499.45,92.84 499.5,92.16 499.54,91.48 499.58,90.83 499.62,90.21 499.67,89.61 499.71,89.03 499.75,88.49 499.79,87.97 499.83,87.48 499.88,87.02 499.92,86.58 499.96,86.17 500,85.79 500.05,85.42 500.09,85.08 500.13,84.76 500.17,84.46 500.21,84.17 500.26,83.9 500.3,83.65 500.34,83.42 500.38,83.2 500.43,82.99 500.47,82.79 500.51,82.61 500.55,82.43 500.59,82.27 500.64,82.12 500.68,81.97 500.72,81.84 500.76,81.71 500.81,81.58 500.85,81.47 500.89,81.36 500.93,81.26 500.97,81.16 501.02,81.07 501.06,80.98 501.1,80.9 501.14,80.82 501.19,80.75 501.23,80.68 501.27,80.61 501.31,80.55 501.35,80.49 501.4,80.43 501.44,80.38 501.48,80.32 501.52,80.27 501.56,80.23 501.61,80.18 501.65,80.14 501.69,80.1 501.73,80.06 501.78,80.02 501.82,79.99 501.86,79.95 501.9,79.92 501.94,79.89 501.99,79.86 502.03,79.83 502.07,79.81 502.11,79.78 502.16,79.76 502.2,79.73 502.24,79.71 502.28,79.69 502.32,79.67 502.37,79.64 502.41,79.63 502.45,79.61 502.49,79.59 502.54,79.57 502.58,79.55 502.62,79.54 502.66,79.52 502.7,79.51 502.75,79.49 502.79,79.48 502.83,79.47 502.87,79.45 502.92,79.44 502.96,79.43 503,79.42 503.04,79.41 503.08,79.4 503.13,79.39 503.17,79.38 503.21,79.37 503.25,79.36 503.3,79.35 503.34,79.34 503.38,79.33 503.42,79.32 503.46,79.31 503.51,79.31 503.55,79.3 503.59,79.29 503.63,79.29 503.68,79.28 503.72,79.27 503.76,79.27 503.8,79.26 503.84,79.25 503.89,79.25 503.93,79.24 503.97,79.24 504.01,79.23 504.05,79.23 504.1,79.22 504.14,79.22 504.18,79.21 504.22,79.21" fill="none" stroke="#2c5ea8" stroke-width="1.25" stroke-linejoin="round"/>
<polyline points="499.28,78.82 499.35,78.82 499.42,78.81 499.48,78.81 499.55,78.81 499.62,78.8 499.69,78.8 499.76,78.8 499.82,78.79 499.89,78.79 499.96,78.79 500.03,78.78 500.1,78.78 500.16,78.77 500.23,78.77 500.3,78.77 500.37,78.76 500.44,78.76 500.5,78.75 500.57,78.75 500.64,78.74 500.71,78.74 500.78,78.73 500.84,78.73 500.91,78.72 500.98,78.72 501.05,78.71 501.12,78.7 501.18,78.7 501.25,78.69 501.32,78.69 501.39,78.68 501.46,78.67 501.52,78.67 501.59,78.66 501.66,78.65 501.73,78.64 501.8,78.64 501.86,78.63 501.93,78.62 502,78.61 502.07,78.6 502.14,78.59 502.21,78.58 502.27,78.57 502.34,78.56 502.41,78.55 502.48,78.54 502.55,78.53 502.61,78.52 502.68,78.51 502.75,78.5 502.82,78.48 502.89,78.47 502.95,78.46 503.02,78.44 503.09,78.43 503.16,78.41 503.23,78.4 503.29,78.38 503.36,78.37 503.43,78.35 503.5,78.33 503.57,78.31 503.63,78.3 503.7,78.28 503.77,78.26 503.84,78.23 503.91,78.21 503.97,78.19 504.04,78.17 504.11,78.14 504.18,78.12 504.25,78.09 504.31,78.06 504.38,78.03 504.45,78 504.52,77.97 504.59,77.94 504.65,77.9 504.72,77.87 504.79,77.83 504.86,77.79 504.93,77.75 504.99,77.71 505.06,77.67 505.13,77.62 505.2,77.58 505.27,77.53 505.33,77.47 505.4,77.42 505.47,77.36 505.54,77.3 505.61,77.24 505.68,77.17 505.74,77.1 505.81,77.03 505.88,76.95 505.95,76.87 506.02,76.79 506.08,76.7 506.15,76.61 506.22,76.51 506.29,76.41 506.36,76.3 506.42,76.18 506.49,76.06 506.56,75.93 506.63,75.8 506.7,75.66 506.76,75.51 506.83,75.35 506.9,75.18 506.97,75 507.04,74.82 507.1,74.62 507.17,74.41 507.24,74.18 507.31,73.95 507.38,73.7 507.44,73.44 507.51,73.16 507.58,72.86 507.65,72.55 507.72,72.21 507.78,71.86 507.85,71.49 507.92,71.1 507.99,70.68 508.06,70.25 508.12,69.79 508.19,69.3 508.26,68.79 508.33,68.26 508.4,67.71 508.46,67.13 508.53,66.53 508.6,65.92 508.67,65.29 508.74,64.65 508.8,64 508.87,63.36 508.94,62.73 509.01,62.12 509.08,61.56 509.15,61.04 509.21,60.59 509.28,60.24 509.35,60 509.42,59.9 509.49,59.97 509.55,60.23 509.62,60.71 509.69,61.43 509.76,62.41 509.83,63.67 509.89,65.21 509.96,67.02 510.03,69.09 510.1,71.39 510.17,73.88 510.23,76.5 510.3,79.2 510.37,81.92 510.44,84.58 510.51,87.14 510.57,89.52 510.64,91.68 510.71,93.6 510.78,95.23 510.85,96.58 510.91,97.64 510.98,98.42 511.05,98.94 511.12,99.23 511.19,99.3 511.25,99.19 511.32,98.92 511.39,98.52 511.46,98.02 511.53,97.45 511.59,96.81 511.66,96.13 511.73,95.43 511.8,94.72 511.87,94 511.93,93.29 512,92.59 512.07,91.91 512.14,91.26 512.21,90.62 512.28,90.01 512.34,89.43 512.41,88.88 512.48,88.36 512.55,87.86 512.62,87.39 512.68,86.94 512.75,86.52 512.82,86.12 512.89,85.75 512.96,85.4 513.02,85.06 513.09,84.75 513.16,84.46 513.23,84.18 513.3,83.92 513.36,83.67 513.43,83.44 513.5,83.22 513.57,83.02 513.64,82.83 513.7,82.64 513.77,82.47 513.84,82.31 513.91,82.16 513.98,82.01 514.04,81.88 514.11,81.75 514.18,81.63 514.25,81.51 514.32,81.4 514.38,81.3 514.45,81.2 514.52,81.11 514.59,81.02 514.66,80.94 514.72,80.86 514.79,80.79 514.86,80.71 514.93,80.65 515,80.58 515.06,80.52 515.13,80.46 515.2,80.41 515.27,80.35 515.34,80.3 515.4,80.26 515.47,80.21 515.54,80.17 515.61,80.13 515.68,80.09 515.75,80.05 515.81,80.01 515.88,79.98 515.95,79.94 516.02,79.91 516.09,79.88 516.15,79.85 516.22,79.82 516.29,79.8 516.36,79.77 516.43,79.75 516.49,79.72 516.56,79.7 516.63,79.68 516.7,79.66 516.77,79.64 516.83,79.62 516.9,79.6 516.97,79.58 517.04,79.56 517.11,79.55 517.17,79.53 517.24,79.52 517.31,79.5 517.38,79.49 517.45,79.47 517.51,79.46 517.58,79.45 517.65,79.44 517.72,79.42 517.79,79.41 517.85,79.4 517.92,79.39 517.99,79.38 518.06,79.37 518.13,79.36 518.19,79.35 518.26,79.34 518.33,79.33 518.4,79.32 518.47,79.32 518.53,79.31 518.6,79.3 518.67,79.29 518.74,79.29 518.81,79.28 518.87,79.27 518.94,79.27 519.01,79.26 519.08,79.25 519.15,79.25 519.22,79.24 519.28,79.24 519.35,79.23 519.42,79.23 519.49,79.22 519.56,79.22 519.62,79.21" fill="none" stroke="#4c8fcb" stroke-width="1.25" stroke-linejoin="round"/>
<polyline points="518.49,76.97 518.56,76.95 518.63,76.92 518.7,76.89 518.76,76.85 518.83,76.82 518.9,76.79 518.97,76.76 519.04,76.72 519.11,76.69 519.18,76.65 519.24,76.61 519.31,76.57 519.38,76.53 519.45,76.49 519.52,76.45 519.59,76.41 519.66,76.36 519.72,76.32 519.79,76.27 519.86,76.22 519.93,76.17 520,76.12 520.07,76.07 520.14,76.02 520.2,75.96 520.27,75.9 520.34,75.84 520.41,75.78 520.48,75.72 520.55,75.65 520.62,75.59 520.68,75.52 520.75,75.45 520.82,75.37 520.89,75.29 520.96,75.22 521.03,75.13 521.1,75.05 521.16,74.96 521.23,74.87 521.3,74.78 521.37,74.68 521.44,74.59 521.51,74.48 521.58,74.38 521.64,74.27 521.71,74.15 521.78,74.03 521.85,73.91 521.92,73.79 521.99,73.66 522.06,73.52 522.12,73.38 522.19,73.24 522.26,73.09 522.33,72.93 522.4,72.77 522.47,72.6 522.54,72.43 522.6,72.25 522.67,72.06 522.74,71.87 522.81,71.67 522.88,71.46 522.95,71.25 523.02,71.03 523.08,70.8 523.15,70.56 523.22,70.32 523.29,70.06 523.36,69.8 523.43,69.53 523.49,69.24 523.56,68.95 523.63,68.66 523.7,68.35 523.77,68.03 523.84,67.7 523.91,67.37 523.97,67.02 524.04,66.67 524.11,66.3 524.18,65.94 524.25,65.56 524.32,65.18 524.39,64.79 524.45,64.4 524.52,64.01 524.59,63.61 524.66,63.22 524.73,62.83 524.8,62.45 524.87,62.08 524.93,61.73 525,61.39 525.07,61.07 525.14,60.79 525.21,60.53 525.28,60.32 525.35,60.16 525.41,60.05 525.48,60 525.55,60.03 525.62,60.13 525.69,60.33 525.76,60.62 525.83,61.03 525.89,61.55 525.96,62.2 526.03,62.98 526.1,63.9 526.17,64.97 526.24,66.19 526.31,67.55 526.37,69.06 526.44,70.71 526.51,72.5 526.58,74.4 526.65,76.41 526.72,78.5 526.79,80.66 526.85,82.87 526.92,85.09 526.99,87.29 527.06,89.47 527.13,91.57 527.2,93.59 527.27,95.5 527.33,97.27 527.4,98.89 527.47,100.34 527.54,101.62 527.61,102.72 527.68,103.64 527.75,104.37 527.81,104.93 527.88,105.31 527.95,105.53 528.02,105.6 528.09,105.53 528.16,105.34 528.23,105.04 528.29,104.63 528.36,104.15 528.43,103.59 528.5,102.98 528.57,102.32 528.64,101.62 528.71,100.89 528.77,100.14 528.84,99.39 528.91,98.63 528.98,97.87 529.05,97.11 529.12,96.37 529.19,95.63 529.25,94.92 529.32,94.22 529.39,93.54 529.46,92.89 529.53,92.25 529.6,91.64 529.67,91.05 529.73,90.49 529.8,89.94 529.87,89.42 529.94,88.92 530.01,88.45 530.08,87.99 530.14,87.56 530.21,87.15 530.28,86.75 530.35,86.37 530.42,86.01 530.49,85.67 530.56,85.35 530.62,85.04 530.69,84.74 530.76,84.46 530.83,84.2 530.9,83.94 530.97,83.7 531.04,83.47 531.1,83.25 531.17,83.04 531.24,82.84 531.31,82.65 531.38,82.47 531.45,82.3 531.52,82.14 531.58,81.98 531.65,81.84 531.72,81.69 531.79,81.56 531.86,81.43 531.93,81.31 532,81.19 532.06,81.08 532.13,80.98 532.2,80.87 532.27,80.78 532.34,80.68 532.41,80.6 532.48,80.51 532.54,80.43 532.61,80.35 532.68,80.28 532.75,80.21 532.82,80.14 532.89,80.08 532.96,80.02 533.02,79.96 533.09,79.9 533.16,79.85 533.23,79.79 533.3,79.75 533.37,79.7 533.44,79.65 533.5,79.61 533.57,79.57 533.64,79.53 533.71,79.49 533.78,79.45 533.85,79.41 533.92,79.38 533.98,79.35 534.05,79.32 534.12,79.28 534.19,79.26 534.26,79.23 534.33,79.2 534.4,79.17 534.46,79.15 534.53,79.13 534.6,79.1 534.67,79.08 534.74,79.06 534.81,79.04 534.88,79.02 534.94,79 535.01,78.98 535.08,78.96 535.15,78.95 535.22,78.93 535.29,78.91 535.36,78.9 535.42,78.88 535.49,78.87 535.56,78.86 535.63,78.84 535.7,78.83 535.77,78.82 535.84,78.81 535.9,78.79 535.97,78.78 536.04,78.77 536.11,78.76 536.18,78.75 536.25,78.74 536.32,78.73 536.38,78.72 536.45,78.72 536.52,78.71 536.59,78.7 536.66,78.69 536.73,78.68 536.79,78.68 536.86,78.67 536.93,78.66 537,78.66 537.07,78.65 537.14,78.64 537.21,78.64 537.27,78.63 537.34,78.62 537.41,78.62 537.48,78.61 537.55,78.61 537.62,78.6 537.69,78.6 537.75,78.59 537.82,78.59 537.89,78.59 537.96,78.58 538.03,78.58 538.1,78.57 538.17,78.57 538.23,78.57 538.3,78.56 538.37,78.56 538.44,78.56 538.51,78.55 538.58,78.55 538.65,78.55 538.71,78.54 538.78,78.54 538.85,78.54 538.92,78.53 538.99,78.53" fill="none" stroke="#b3d4ec" stroke-width="1.25" stroke-linejoin="round"/>
<polyline points="539.5,75.44 539.59,75.36 539.68,75.28 539.76,75.19 539.85,75.11 539.94,75.02 540.03,74.93 540.11,74.83 540.2,74.73 540.29,74.63 540.37,74.52 540.46,74.41 540.55,74.3 540.63,74.18 540.72,74.06 540.81,73.94 540.9,73.81 540.98,73.67 541.07,73.53 541.16,73.39 541.24,73.24 541.33,73.08 541.42,72.92 541.5,72.76 541.59,72.59 541.68,72.41 541.77,72.22 541.85,72.03 541.94,71.83 542.03,71.63 542.11,71.41 542.2,71.19 542.29,70.96 542.37,70.73 542.46,70.48 542.55,70.23 542.64,69.97 542.72,69.7 542.81,69.42 542.9,69.13 542.98,68.83 543.07,68.53 543.16,68.21 543.24,67.89 543.33,67.56 543.42,67.22 543.51,66.87 543.59,66.51 543.68,66.14 543.77,65.77 543.85,65.39 543.94,65.01 544.03,64.62 544.11,64.24 544.2,63.85 544.29,63.46 544.38,63.07 544.46,62.69 544.55,62.32 544.64,61.96 544.72,61.62 544.81,61.29 544.9,60.99 544.98,60.72 545.07,60.49 545.16,60.29 545.25,60.14 545.33,60.04 545.42,60 545.51,60.03 545.59,60.13 545.68,60.32 545.77,60.59 545.85,60.97 545.94,61.44 546.03,62.03 546.11,62.73 546.2,63.56 546.29,64.5 546.38,65.57 546.46,66.76 546.55,68.07 546.64,69.5 546.72,71.03 546.81,72.66 546.9,74.38 546.98,76.16 547.07,78.01 547.16,79.88 547.25,81.78 547.33,83.67 547.42,85.54 547.51,87.37 547.59,89.14 547.68,90.83 547.77,92.42 547.85,93.91 547.94,95.28 548.03,96.52 548.12,97.62 548.2,98.58 548.29,99.41 548.38,100.09 548.46,100.64 548.55,101.06 548.64,101.35 548.72,101.53 548.81,101.6 548.9,101.57 548.99,101.44 549.07,101.24 549.16,100.97 549.25,100.63 549.33,100.24 549.42,99.8 549.51,99.33 549.59,98.82 549.68,98.29 549.77,97.75 549.86,97.19 549.94,96.62 550.03,96.05 550.12,95.47 550.2,94.91 550.29,94.34 550.38,93.79 550.46,93.24 550.55,92.7 550.64,92.18 550.73,91.67 550.81,91.18 550.9,90.7 550.99,90.23 551.07,89.78 551.16,89.35 551.25,88.93 551.33,88.52 551.42,88.13 551.51,87.76 551.6,87.4 551.68,87.05 551.77,86.72 551.86,86.4 551.94,86.1 552.03,85.8 552.12,85.52 552.2,85.25 552.29,84.99 552.38,84.75 552.47,84.51 552.55,84.28 552.64,84.06 552.73,83.86 552.81,83.66 552.9,83.47 552.99,83.28 553.07,83.11 553.16,82.94 553.25,82.78 553.33,82.62 553.42,82.47 553.51,82.33 553.6,82.2 553.68,82.07 553.77,81.94 553.86,81.82 553.94,81.71 554.03,81.6 554.12,81.49 554.2,81.39 554.29,81.29 554.38,81.2 554.47,81.11 554.55,81.02 554.64,80.94 554.73,80.86 554.81,80.78 554.9,80.71 554.99,80.64 555.07,80.57 555.16,80.5 555.25,80.44 555.34,80.38 555.42,80.32 555.51,80.26 555.6,80.21 555.68,80.16 555.77,80.11 555.86,80.06 555.94,80.01 556.03,79.96 556.12,79.92 556.21,79.88 556.29,79.84 556.38,79.8 556.47,79.76 556.55,79.72 556.64,79.69 556.73,79.66 556.81,79.62 556.9,79.59 556.99,79.56 557.08,79.53 557.16,79.5 557.25,79.47 557.34,79.45 557.42,79.42 557.51,79.4 557.6,79.37 557.68,79.35 557.77,79.32 557.86,79.3 557.95,79.28 558.03,79.26 558.12,79.24 558.21,79.22 558.29,79.2 558.38,79.18 558.47,79.17 558.55,79.15 558.64,79.13 558.73,79.12 558.82,79.1 558.9,79.09 558.99,79.07 559.08,79.06 559.16,79.04 559.25,79.03 559.34,79.02 559.42,79 559.51,78.99 559.6,78.98 559.69,78.97 559.77,78.96 559.86,78.94 559.95,78.93 560.03,78.92 560.12,78.91 560.21,78.9 560.29,78.89 560.38,78.88 560.47,78.88 560.55,78.87 560.64,78.86 560.73,78.85 560.82,78.84 560.9,78.83 560.99,78.83 561.08,78.82 561.16,78.81 561.25,78.8 561.34,78.8 561.42,78.79 561.51,78.78 561.6,78.78 561.69,78.77 561.77,78.76 561.86,78.76 561.95,78.75 562.03,78.75 562.12,78.74 562.21,78.74 562.29,78.73 562.38,78.73 562.47,78.72 562.56,78.72 562.64,78.71 562.73,78.71 562.82,78.7 562.9,78.7 562.99,78.69 563.08,78.69 563.16,78.69 563.25,78.68 563.34,78.68 563.43,78.67 563.51,78.67 563.6,78.67 563.69,78.66 563.77,78.66 563.86,78.66 563.95,78.65 564.03,78.65 564.12,78.65 564.21,78.64 564.3,78.64 564.38,78.64 564.47,78.63 564.56,78.63 564.64,78.63 564.73,78.63 564.82,78.62 564.9,78.62 564.99,78.62 565.08,78.62 565.17,78.61 565.25,78.61 565.34,78.61 565.43,78.61 565.51,78.6" fill="none" stroke="#f4dcc6" stroke-width="1.25" stroke-linejoin="round"/>
<polyline points="552.48,77.14 552.57,77.12 552.66,77.11 552.75,77.09 552.84,77.07 552.93,77.06 553.02,77.04 553.11,77.03 553.2,77.01 553.29,76.99 553.38,76.97 553.46,76.96 553.55,76.94 553.64,76.92 553.73,76.9 553.82,76.88 553.91,76.86 554,76.84 554.09,76.82 554.18,76.8 554.27,76.78 554.36,76.76 554.45,76.74 554.54,76.72 554.62,76.7 554.71,76.68 554.8,76.66 554.89,76.63 554.98,76.61 555.07,76.59 555.16,76.56 555.25,76.54 555.34,76.51 555.43,76.49 555.52,76.46 555.61,76.43 555.7,76.41 555.78,76.38 555.87,76.35 555.96,76.33 556.05,76.3 556.14,76.27 556.23,76.24 556.32,76.21 556.41,76.18 556.5,76.15 556.59,76.11 556.68,76.08 556.77,76.05 556.85,76.01 556.94,75.98 557.03,75.94 557.12,75.91 557.21,75.87 557.3,75.84 557.39,75.8 557.48,75.76 557.57,75.72 557.66,75.68 557.75,75.64 557.84,75.6 557.93,75.55 558.01,75.51 558.1,75.47 558.19,75.42 558.28,75.37 558.37,75.33 558.46,75.28 558.55,75.23 558.64,75.18 558.73,75.13 558.82,75.08 558.91,75.02 559,74.97 559.09,74.91 559.17,74.86 559.26,74.8 559.35,74.74 559.44,74.68 559.53,74.62 559.62,74.55 559.71,74.49 559.8,74.42 559.89,74.35 559.98,74.28 560.07,74.21 560.16,74.14 560.25,74.07 560.33,73.99 560.42,73.91 560.51,73.83 560.6,73.75 560.69,73.67 560.78,73.58 560.87,73.5 560.96,73.41 561.05,73.32 561.14,73.22 561.23,73.13 561.32,73.03 561.41,72.93 561.49,72.82 561.58,72.72 561.67,72.61 561.76,72.5 561.85,72.39 561.94,72.27 562.03,72.15 562.12,72.03 562.21,71.9 562.3,71.78 562.39,71.65 562.48,71.51 562.57,71.37 562.65,71.23 562.74,71.09 562.83,70.94 562.92,70.78 563.01,70.63 563.1,70.47 563.19,70.3 563.28,70.14 563.37,69.96 563.46,69.79 563.55,69.61 563.64,69.42 563.73,69.23 563.81,69.04 563.9,68.84 563.99,68.63 564.08,68.42 564.17,68.21 564.26,67.99 564.35,67.77 564.44,67.54 564.53,67.31 564.62,67.07 564.71,66.83 564.8,66.58 564.89,66.33 564.97,66.07 565.06,65.81 565.15,65.54 565.24,65.27 565.33,65 565.42,64.72 565.51,64.44 565.6,64.16 565.69,63.87 565.78,63.59 565.87,63.3 565.96,63.02 566.05,62.73 566.13,62.45 566.22,62.17 566.31,61.89 566.4,61.62 566.49,61.36 566.58,61.11 566.67,60.86 566.76,60.64 566.85,60.43 566.94,60.24 567.03,60.07 567.12,59.93 567.21,59.82 567.29,59.74 567.38,59.7 567.47,59.71 567.56,59.76 567.65,59.87 567.74,60.04 567.83,60.28 567.92,60.59 568.01,60.99 568.1,61.47 568.19,62.05 568.28,62.73 568.37,63.53 568.45,64.45 568.54,65.49 568.63,66.66 568.72,67.98 568.81,69.44 568.9,71.06 568.99,72.82 569.08,74.74 569.17,76.82 569.26,79.04 569.35,81.41 569.44,83.91 569.53,86.54 569.61,89.28 569.7,92.11 569.79,95.01 569.88,97.96 569.97,100.94 570.06,103.91 570.15,106.84 570.24,109.72 570.33,112.49 570.42,115.15 570.51,117.64 570.6,119.96 570.69,122.07 570.77,123.96 570.86,125.61 570.95,127 571.04,128.12 571.13,128.98 571.22,129.58 571.31,129.91 571.4,130 571.49,129.84 571.58,129.46 571.67,128.87 571.76,128.09 571.85,127.14 571.93,126.05 572.02,124.82 572.11,123.49 572.2,122.07 572.29,120.58 572.38,119.04 572.47,117.46 572.56,115.86 572.65,114.26 572.74,112.65 572.83,111.06 572.92,109.5 573.01,107.96 573.09,106.46 573.18,104.99 573.27,103.58 573.36,102.21 573.45,100.89 573.54,99.62 573.63,98.4 573.72,97.24 573.81,96.13 573.9,95.07 573.99,94.06 574.08,93.1 574.17,92.19 574.25,91.32 574.34,90.5 574.43,89.73 574.52,88.99 574.61,88.3 574.7,87.64 574.79,87.03 574.88,86.44 574.97,85.89 575.06,85.37 575.15,84.88 575.24,84.42 575.33,83.99 575.41,83.58 575.5,83.19 575.59,82.83 575.68,82.49 575.77,82.17 575.86,81.87 575.95,81.59 576.04,81.32 576.13,81.07 576.22,80.83 576.31,80.61 576.4,80.4 576.49,80.21 576.57,80.02 576.66,79.85 576.75,79.69 576.84,79.54 576.93,79.39 577.02,79.26 577.11,79.13 577.2,79.01 577.29,78.9 577.38,78.8 577.47,78.7 577.56,78.61 577.64,78.52 577.73,78.44 577.82,78.37 577.91,78.3 578,78.23 578.09,78.17 578.18,78.11 578.27,78.05 578.36,78 578.45,77.96 578.54,77.91 578.63,77.87 578.72,77.83 578.8,77.8 578.89,77.76 578.98,77.73 579.07,77.7 579.16,77.68" fill="none" stroke="#f2b39c" stroke-width="1.25" stroke-linejoin="round"/>
<polyline points="579.52,78.44 579.65,78.43 579.78,78.42 579.9,78.4 580.03,78.39 580.16,78.38 580.29,78.37 580.41,78.36 580.54,78.34 580.67,78.33 580.8,78.32 580.92,78.3 581.05,78.29 581.18,78.27 581.31,78.26 581.43,78.24 581.56,78.22 581.69,78.21 581.82,78.19 581.94,78.17 582.07,78.15 582.2,78.13 582.33,78.11 582.45,78.09 582.58,78.07 582.71,78.05 582.84,78.03 582.96,78 583.09,77.98 583.22,77.95 583.35,77.92 583.47,77.9 583.6,77.87 583.73,77.84 583.86,77.81 583.98,77.78 584.11,77.74 584.24,77.71 584.37,77.68 584.49,77.64 584.62,77.6 584.75,77.56 584.88,77.52 585,77.48 585.13,77.43 585.26,77.39 585.39,77.34 585.51,77.29 585.64,77.24 585.77,77.19 585.9,77.13 586.02,77.07 586.15,77.01 586.28,76.95 586.41,76.88 586.53,76.81 586.66,76.74 586.79,76.67 586.92,76.59 587.04,76.51 587.17,76.42 587.3,76.33 587.43,76.24 587.55,76.14 587.68,76.04 587.81,75.94 587.94,75.82 588.06,75.71 588.19,75.59 588.32,75.46 588.45,75.33 588.57,75.19 588.7,75.04 588.83,74.89 588.95,74.73 589.08,74.56 589.21,74.39 589.34,74.2 589.46,74.01 589.59,73.81 589.72,73.6 589.85,73.37 589.97,73.14 590.1,72.9 590.23,72.64 590.36,72.37 590.48,72.09 590.61,71.8 590.74,71.49 590.87,71.17 590.99,70.83 591.12,70.48 591.25,70.12 591.38,69.73 591.5,69.34 591.63,68.92 591.76,68.49 591.89,68.05 592.01,67.59 592.14,67.12 592.27,66.63 592.4,66.13 592.52,65.62 592.65,65.1 592.78,64.57 592.91,64.05 593.03,63.52 593.16,63 593.29,62.49 593.42,62 593.54,61.53 593.67,61.09 593.8,60.7 593.93,60.35 594.05,60.07 594.18,59.86 594.31,59.73 594.44,59.7 594.56,59.78 594.69,59.99 594.82,60.33 594.95,60.81 595.07,61.44 595.2,62.24 595.33,63.2 595.46,64.33 595.58,65.62 595.71,67.06 595.84,68.64 595.97,70.36 596.09,72.17 596.22,74.08 596.35,76.04 596.48,78.03 596.6,80.02 596.73,81.98 596.86,83.89 596.99,85.72 597.11,87.44 597.24,89.05 597.37,90.51 597.5,91.82 597.62,92.98 597.75,93.98 597.88,94.82 598.01,95.51 598.13,96.04 598.26,96.44 598.39,96.71 598.52,96.86 598.64,96.9 598.77,96.85 598.9,96.71 599.02,96.5 599.15,96.23 599.28,95.91 599.41,95.54 599.53,95.14 599.66,94.72 599.79,94.27 599.92,93.82 600.04,93.35 600.17,92.88 600.3,92.41 600.43,91.94 600.55,91.47 600.68,91.02 600.81,90.57 600.94,90.14 601.06,89.71 601.19,89.3 601.32,88.9 601.45,88.51 601.57,88.14 601.7,87.78 601.83,87.43 601.96,87.1 602.08,86.78 602.21,86.48 602.34,86.18 602.47,85.9 602.59,85.63 602.72,85.37 602.85,85.12 602.98,84.89 603.1,84.66 603.23,84.44 603.36,84.24 603.49,84.04 603.61,83.85 603.74,83.67 603.87,83.5 604,83.33 604.12,83.17 604.25,83.02 604.38,82.87 604.51,82.73 604.63,82.6 604.76,82.47 604.89,82.35 605.02,82.23 605.14,82.12 605.27,82.02 605.4,81.91 605.53,81.81 605.65,81.72 605.78,81.63 605.91,81.54 606.04,81.46 606.16,81.38 606.29,81.3 606.42,81.23 606.55,81.15 606.67,81.09 606.8,81.02 606.93,80.96 607.06,80.9 607.18,80.84 607.31,80.78 607.44,80.73 607.57,80.68 607.69,80.62 607.82,80.58 607.95,80.53 608.08,80.48 608.2,80.44 608.33,80.4 608.46,80.36 608.59,80.32 608.71,80.28 608.84,80.25 608.97,80.21 609.09,80.18 609.22,80.14 609.35,80.11 609.48,80.08 609.6,80.05 609.73,80.02 609.86,80 609.99,79.97 610.11,79.94 610.24,79.92 610.37,79.89 610.5,79.87 610.62,79.85 610.75,79.82 610.88,79.8 611.01,79.78 611.13,79.76 611.26,79.74 611.39,79.72 611.52,79.71 611.64,79.69 611.77,79.67 611.9,79.65 612.03,79.64 612.15,79.62 612.28,79.61 612.41,79.59 612.54,79.58 612.66,79.56 612.79,79.55 612.92,79.53 613.05,79.52 613.17,79.51 613.3,79.5 613.43,79.48 613.56,79.47 613.68,79.46 613.81,79.45 613.94,79.44 614.07,79.43 614.19,79.42 614.32,79.41 614.45,79.4 614.58,79.39 614.7,79.38 614.83,79.37 614.96,79.36 615.09,79.35 615.21,79.35 615.34,79.34 615.47,79.33 615.6,79.32 615.72,79.31 615.85,79.31 615.98,79.3 616.11,79.29 616.23,79.29 616.36,79.28 616.49,79.27 616.62,79.27 616.74,79.26 616.87,79.25 617,79.25 617.13,79.24 617.25,79.24 617.38,79.23 617.51,79.23 617.64,79.22" fill="none" stroke="#e9583f" stroke-width="1.25" stroke-linejoin="round"/>
<polyline points="605.53,79.57 605.66,79.57 605.78,79.57 605.91,79.57 606.04,79.57 606.16,79.56 606.29,79.56 606.41,79.56 606.54,79.56 606.67,79.55 606.79,79.55 606.92,79.55 607.04,79.55 607.17,79.54 607.3,79.54 607.42,79.54 607.55,79.53 607.68,79.53 607.8,79.52 607.93,79.52 608.05,79.51 608.18,79.51 608.31,79.5 608.43,79.5 608.56,79.49 608.68,79.48 608.81,79.48 608.94,79.47 609.06,79.46 609.19,79.46 609.31,79.45 609.44,79.44 609.57,79.43 609.69,79.42 609.82,79.41 609.94,79.4 610.07,79.39 610.2,79.38 610.32,79.37 610.45,79.36 610.58,79.34 610.7,79.33 610.83,79.32 610.95,79.3 611.08,79.28 611.21,79.27 611.33,79.25 611.46,79.23 611.58,79.21 611.71,79.19 611.84,79.17 611.96,79.15 612.09,79.13 612.21,79.1 612.34,79.08 612.47,79.05 612.59,79.02 612.72,78.99 612.85,78.96 612.97,78.93 613.1,78.9 613.22,78.86 613.35,78.83 613.48,78.79 613.6,78.74 613.73,78.7 613.85,78.66 613.98,78.61 614.11,78.56 614.23,78.51 614.36,78.45 614.48,78.39 614.61,78.33 614.74,78.27 614.86,78.2 614.99,78.13 615.11,78.05 615.24,77.97 615.37,77.89 615.49,77.81 615.62,77.71 615.75,77.62 615.87,77.52 616,77.41 616.12,77.3 616.25,77.18 616.38,77.06 616.5,76.93 616.63,76.79 616.75,76.64 616.88,76.49 617.01,76.33 617.13,76.16 617.26,75.99 617.38,75.8 617.51,75.6 617.64,75.4 617.76,75.18 617.89,74.95 618.01,74.72 618.14,74.46 618.27,74.2 618.39,73.92 618.52,73.64 618.65,73.33 618.77,73.01 618.9,72.68 619.02,72.33 619.15,71.97 619.28,71.59 619.4,71.2 619.53,70.79 619.65,70.36 619.78,69.92 619.91,69.46 620.03,68.99 620.16,68.5 620.28,68 620.41,67.49 620.54,66.97 620.66,66.44 620.79,65.9 620.91,65.35 621.04,64.81 621.17,64.27 621.29,63.73 621.42,63.21 621.55,62.69 621.67,62.2 621.8,61.74 621.92,61.3 622.05,60.9 622.18,60.55 622.3,60.25 622.43,60.01 622.55,59.83 622.68,59.73 622.81,59.7 622.93,59.76 623.06,59.91 623.18,60.14 623.31,60.48 623.44,60.91 623.56,61.45 623.69,62.07 623.81,62.8 623.94,63.61 624.07,64.51 624.19,65.48 624.32,66.52 624.45,67.62 624.57,68.77 624.7,69.96 624.82,71.17 624.95,72.39 625.08,73.62 625.2,74.84 625.33,76.04 625.45,77.21 625.58,78.34 625.71,79.43 625.83,80.46 625.96,81.44 626.08,82.36 626.21,83.22 626.34,84.01 626.46,84.74 626.59,85.4 626.71,85.99 626.84,86.53 626.97,87 627.09,87.41 627.22,87.76 627.35,88.07 627.47,88.32 627.6,88.53 627.72,88.69 627.85,88.82 627.98,88.91 628.1,88.97 628.23,89 628.35,89 628.48,88.97 628.61,88.93 628.73,88.87 628.86,88.79 628.98,88.7 629.11,88.59 629.24,88.47 629.36,88.35 629.49,88.21 629.61,88.07 629.74,87.93 629.87,87.78 629.99,87.63 630.12,87.47 630.25,87.32 630.37,87.16 630.5,87 630.62,86.84 630.75,86.69 630.88,86.53 631,86.38 631.13,86.23 631.25,86.08 631.38,85.93 631.51,85.78 631.63,85.64 631.76,85.5 631.88,85.36 632.01,85.23 632.14,85.09 632.26,84.97 632.39,84.84 632.52,84.71 632.64,84.59 632.77,84.48 632.89,84.36 633.02,84.25 633.15,84.14 633.27,84.03 633.4,83.93 633.52,83.83 633.65,83.73 633.78,83.63 633.9,83.54 634.03,83.45 634.15,83.36 634.28,83.27 634.41,83.19 634.53,83.11 634.66,83.03 634.78,82.95 634.91,82.87 635.04,82.8 635.16,82.73 635.29,82.66 635.42,82.59 635.54,82.53 635.67,82.46 635.79,82.4 635.92,82.34 636.05,82.28 636.17,82.22 636.3,82.16 636.42,82.11 636.55,82.06 636.68,82 636.8,81.95 636.93,81.9 637.05,81.86 637.18,81.81 637.31,81.76 637.43,81.72 637.56,81.68 637.68,81.63 637.81,81.59 637.94,81.55 638.06,81.51 638.19,81.47 638.32,81.44 638.44,81.4 638.57,81.36 638.69,81.33 638.82,81.3 638.95,81.26 639.07,81.23 639.2,81.2 639.32,81.17 639.45,81.14 639.58,81.11 639.7,81.08 639.83,81.05 639.95,81.02 640.08,81 640.21,80.97 640.33,80.95 640.46,80.92 640.58,80.9 640.71,80.87 640.84,80.85 640.96,80.83 641.09,80.8 641.22,80.78 641.34,80.76 641.47,80.74 641.59,80.72 641.72,80.7 641.85,80.68 641.97,80.66 642.1,80.64 642.22,80.62 642.35,80.61 642.48,80.59 642.6,80.57 642.73,80.55 642.85,80.54 642.98,80.52 643.11,80.5 643.23,80.49" fill="none" stroke="#cd2b2e" stroke-width="1.25" stroke-linejoin="round"/>
<polyline points="631.49,79.91 631.62,79.91 631.74,79.91 631.87,79.91 631.99,79.91 632.12,79.91 632.25,79.91 632.37,79.91 632.5,79.91 632.62,79.91 632.75,79.91 632.88,79.91 633,79.91 633.13,79.91 633.26,79.91 633.38,79.91 633.51,79.91 633.63,79.91 633.76,79.91 633.89,79.91 634.01,79.91 634.14,79.91 634.26,79.91 634.39,79.91 634.52,79.91 634.64,79.9 634.77,79.9 634.89,79.9 635.02,79.9 635.15,79.9 635.27,79.9 635.4,79.9 635.52,79.89 635.65,79.89 635.78,79.89 635.9,79.89 636.03,79.88 636.16,79.88 636.28,79.88 636.41,79.87 636.53,79.87 636.66,79.87 636.79,79.86 636.91,79.86 637.04,79.85 637.16,79.85 637.29,79.84 637.42,79.84 637.54,79.83 637.67,79.82 637.79,79.82 637.92,79.81 638.05,79.8 638.17,79.79 638.3,79.78 638.42,79.78 638.55,79.77 638.68,79.76 638.8,79.74 638.93,79.73 639.06,79.72 639.18,79.71 639.31,79.7 639.43,79.68 639.56,79.67 639.69,79.65 639.81,79.63 639.94,79.62 640.06,79.6 640.19,79.58 640.32,79.56 640.44,79.54 640.57,79.52 640.69,79.49 640.82,79.47 640.95,79.44 641.07,79.41 641.2,79.39 641.32,79.36 641.45,79.32 641.58,79.29 641.7,79.25 641.83,79.22 641.96,79.18 642.08,79.14 642.21,79.09 642.33,79.05 642.46,79 642.59,78.95 642.71,78.9 642.84,78.84 642.96,78.78 643.09,78.72 643.22,78.65 643.34,78.58 643.47,78.51 643.59,78.44 643.72,78.36 643.85,78.27 643.97,78.18 644.1,78.09 644.22,77.99 644.35,77.89 644.48,77.78 644.6,77.66 644.73,77.54 644.86,77.42 644.98,77.28 645.11,77.14 645.23,76.99 645.36,76.84 645.49,76.68 645.61,76.5 645.74,76.32 645.86,76.13 645.99,75.93 646.12,75.72 646.24,75.5 646.37,75.27 646.49,75.03 646.62,74.78 646.75,74.51 646.87,74.23 647,73.94 647.12,73.63 647.25,73.31 647.38,72.98 647.5,72.63 647.63,72.27 647.76,71.89 647.88,71.5 648.01,71.09 648.13,70.66 648.26,70.23 648.39,69.77 648.51,69.31 648.64,68.83 648.76,68.33 648.89,67.83 649.02,67.32 649.14,66.79 649.27,66.26 649.39,65.73 649.52,65.2 649.65,64.66 649.77,64.13 649.9,63.61 650.02,63.1 650.15,62.61 650.28,62.13 650.4,61.69 650.53,61.27 650.66,60.89 650.78,60.56 650.91,60.27 651.03,60.03 651.16,59.85 651.29,59.74 651.41,59.7 651.54,59.73 651.66,59.84 651.79,60.03 651.92,60.3 652.04,60.66 652.17,61.1 652.29,61.63 652.42,62.23 652.55,62.91 652.67,63.67 652.8,64.5 652.93,65.38 653.05,66.33 653.18,67.31 653.3,68.34 653.43,69.39 653.56,70.47 653.68,71.56 653.81,72.65 653.93,73.73 654.06,74.8 654.19,75.85 654.31,76.87 654.44,77.86 654.56,78.81 654.69,79.71 654.82,80.57 654.94,81.38 655.07,82.14 655.19,82.85 655.32,83.5 655.45,84.11 655.57,84.66 655.7,85.16 655.83,85.61 655.95,86.02 656.08,86.37 656.2,86.69 656.33,86.97 656.46,87.2 656.58,87.4 656.71,87.57 656.83,87.71 656.96,87.81 657.09,87.89 657.21,87.95 657.34,87.99 657.46,88 657.59,88 657.72,87.98 657.84,87.94 657.97,87.89 658.09,87.83 658.22,87.76 658.35,87.68 658.47,87.6 658.6,87.5 658.73,87.4 658.85,87.3 658.98,87.19 659.1,87.08 659.23,86.97 659.36,86.85 659.48,86.73 659.61,86.61 659.73,86.49 659.86,86.37 659.99,86.25 660.11,86.13 660.24,86.01 660.36,85.89 660.49,85.77 660.62,85.65 660.74,85.54 660.87,85.42 660.99,85.31 661.12,85.2 661.25,85.09 661.37,84.98 661.5,84.87 661.63,84.77 661.75,84.67 661.88,84.57 662,84.47 662.13,84.37 662.26,84.28 662.38,84.19 662.51,84.1 662.63,84.01 662.76,83.92 662.89,83.84 663.01,83.75 663.14,83.67 663.26,83.59 663.39,83.52 663.52,83.44 663.64,83.37 663.77,83.29 663.89,83.22 664.02,83.16 664.15,83.09 664.27,83.02 664.4,82.96 664.53,82.9 664.65,82.83 664.78,82.77 664.9,82.72 665.03,82.66 665.16,82.6 665.28,82.55 665.41,82.49 665.53,82.44 665.66,82.39 665.79,82.34 665.91,82.29 666.04,82.25 666.16,82.2 666.29,82.16 666.42,82.11 666.54,82.07 666.67,82.03 666.79,81.98 666.92,81.94 667.05,81.91 667.17,81.87 667.3,81.83 667.43,81.79 667.55,81.76 667.68,81.72 667.8,81.69 667.93,81.65 668.06,81.62 668.18,81.59 668.31,81.56 668.43,81.53 668.56,81.5 668.69,81.47 668.81,81.44 668.94,81.41 669.06,81.38 669.19,81.35" fill="none" stroke="#6a1718" stroke-width="1.25" stroke-linejoin="round"/>
<text x="489" y="49" font-size="7.0" text-anchor="start" style="fill:#2b4685">2 GHz</text>
<text x="502.2" y="58.1" font-size="7.0" text-anchor="start" style="fill:#5b9bd2">6 GHz</text>
<text x="536.8" y="58.1" font-size="7.0" text-anchor="start" style="fill:#f3d6bd">10 GHz</text>
<text x="493.6" y="107.8" font-size="7.0" text-anchor="start" style="fill:#3565ab">4 GHz</text>
<text x="518.2" y="113.8" font-size="7.0" text-anchor="start" style="fill:#b5d5ec">8 GHz</text>
<text x="562.2" y="138.1" font-size="7.0" text-anchor="start" style="fill:#f0b39c">12 GHz</text>
<text x="586.2" y="55.8" font-size="7.0" text-anchor="start" style="fill:#e8604a">14 GHz</text>
<text x="616.2" y="100.9" font-size="7.0" text-anchor="start" style="fill:#c92f30">16 GHz</text>
<text x="638.2" y="47.8" font-size="7.0" text-anchor="start" style="fill:#6b1b1d">18 GHz</text>
<text x="3" y="177.7" font-size="14.5">d</text>
<rect x="32.3" y="194.7" width="190.2" height="153.2" fill="none" stroke="#2e2e2e" stroke-width="1.35"/>
<path d="M32.3 347.9v-3.1M32.3 194.7v3.1M51.32 347.9v-3.1M51.32 194.7v3.1M70.34 347.9v-3.1M70.34 194.7v3.1M89.36 347.9v-3.1M89.36 194.7v3.1M108.38 347.9v-3.1M108.38 194.7v3.1M127.4 347.9v-3.1M127.4 194.7v3.1M146.42 347.9v-3.1M146.42 194.7v3.1M165.44 347.9v-3.1M165.44 194.7v3.1M184.46 347.9v-3.1M184.46 194.7v3.1M203.48 347.9v-3.1M203.48 194.7v3.1M222.5 347.9v-3.1M222.5 194.7v3.1" stroke="#2e2e2e" stroke-width="1.35" fill="none"/>
<text x="32.3" y="359.1" font-size="10" text-anchor="middle">0</text>
<text x="51.32" y="359.1" font-size="10" text-anchor="middle">2</text>
<text x="70.34" y="359.1" font-size="10" text-anchor="middle">4</text>
<text x="89.36" y="359.1" font-size="10" text-anchor="middle">6</text>
<text x="108.38" y="359.1" font-size="10" text-anchor="middle">8</text>
<text x="127.4" y="359.1" font-size="10" text-anchor="middle">10</text>
<text x="146.42" y="359.1" font-size="10" text-anchor="middle">12</text>
<text x="165.44" y="359.1" font-size="10" text-anchor="middle">14</text>
<text x="184.46" y="359.1" font-size="10" text-anchor="middle">16</text>
<text x="203.48" y="359.1" font-size="10" text-anchor="middle">18</text>
<text x="222.5" y="359.1" font-size="10" text-anchor="middle">20</text>
<path d="M32.3 347.9h3.1M222.5 347.9h-3.1M32.3 313.75h3.1M222.5 313.75h-3.1M32.3 279.6h3.1M222.5 279.6h-3.1M32.3 245.45h3.1M222.5 245.45h-3.1M32.3 211.3h3.1M222.5 211.3h-3.1" stroke="#2e2e2e" stroke-width="1.35" fill="none"/>
<text x="29" y="351.1" font-size="10" text-anchor="end">0</text>
<text x="29" y="316.95" font-size="10" text-anchor="end">5</text>
<text x="29" y="282.8" font-size="10" text-anchor="end">10</text>
<text x="29" y="248.65" font-size="10" text-anchor="end">15</text>
<text x="29" y="214.5" font-size="10" text-anchor="end">20</text>
<text transform="translate(12.2,271.2) rotate(-90)" x="0" y="0" font-size="12.9" text-anchor="middle" >&#916;<tspan font-style="italic">H</tspan> (mT)</text>
<text x="127.4" y="376.3" font-size="12.9" text-anchor="middle" >Frequency (GHz)</text>
<path d="M51.32 335.2V337.93M49.72 335.2h3.2M49.72 337.93h3.2" stroke="#f2735e" stroke-width="0.9" fill="none"/>
<circle cx="51.32" cy="336.56" r="2.4" fill="url(#g_sal)"/>
<path d="M70.34 328.91V331.64M68.74 328.91h3.2M68.74 331.64h3.2" stroke="#f2735e" stroke-width="0.9" fill="none"/>
<circle cx="70.34" cy="330.28" r="2.4" fill="url(#g_sal)"/>
<path d="M89.36 322.83V325.57M87.76 322.83h3.2M87.76 325.57h3.2" stroke="#f2735e" stroke-width="0.9" fill="none"/>
<circle cx="89.36" cy="324.2" r="2.4" fill="url(#g_sal)"/>
<path d="M108.38 315.8V318.53M106.78 315.8h3.2M106.78 318.53h3.2" stroke="#f2735e" stroke-width="0.9" fill="none"/>
<circle cx="108.38" cy="317.16" r="2.4" fill="url(#g_sal)"/>
<path d="M127.4 306.85V311.63M125.8 306.85h3.2M125.8 311.63h3.2" stroke="#f2735e" stroke-width="0.9" fill="none"/>
<circle cx="127.4" cy="309.24" r="2.4" fill="url(#g_sal)"/>
<path d="M146.42 300.77V304.87M144.82 300.77h3.2M144.82 304.87h3.2" stroke="#f2735e" stroke-width="0.9" fill="none"/>
<circle cx="146.42" cy="302.82" r="2.4" fill="url(#g_sal)"/>
<path d="M165.44 293.67V296.4M163.84 293.67h3.2M163.84 296.4h3.2" stroke="#f2735e" stroke-width="0.9" fill="none"/>
<circle cx="165.44" cy="295.03" r="2.4" fill="url(#g_sal)"/>
<path d="M184.46 288.14V290.87M182.86 288.14h3.2M182.86 290.87h3.2" stroke="#f2735e" stroke-width="0.9" fill="none"/>
<circle cx="184.46" cy="289.5" r="2.4" fill="url(#g_sal)"/>
<path d="M203.48 278.57V283.36M201.88 278.57h3.2M201.88 283.36h3.2" stroke="#f2735e" stroke-width="0.9" fill="none"/>
<circle cx="203.48" cy="280.96" r="2.4" fill="url(#g_sal)"/>
<path d="M51.32 338V340.73M49.72 338h3.2M49.72 340.73h3.2" stroke="#3d7fc9" stroke-width="0.9" fill="none"/>
<circle cx="51.32" cy="339.36" r="2.4" fill="url(#g_blu)"/>
<path d="M70.34 333.56V336.29M68.74 333.56h3.2M68.74 336.29h3.2" stroke="#3d7fc9" stroke-width="0.9" fill="none"/>
<circle cx="70.34" cy="334.92" r="2.4" fill="url(#g_blu)"/>
<path d="M89.36 327.2V329.94M87.76 327.2h3.2M87.76 329.94h3.2" stroke="#3d7fc9" stroke-width="0.9" fill="none"/>
<circle cx="89.36" cy="328.57" r="2.4" fill="url(#g_blu)"/>
<path d="M108.38 320.72V323.45M106.78 320.72h3.2M106.78 323.45h3.2" stroke="#3d7fc9" stroke-width="0.9" fill="none"/>
<circle cx="108.38" cy="322.08" r="2.4" fill="url(#g_blu)"/>
<path d="M127.4 314.5V318.6M125.8 314.5h3.2M125.8 318.6h3.2" stroke="#3d7fc9" stroke-width="0.9" fill="none"/>
<circle cx="127.4" cy="316.55" r="2.4" fill="url(#g_blu)"/>
<path d="M146.42 308.97V313.07M144.82 308.97h3.2M144.82 313.07h3.2" stroke="#3d7fc9" stroke-width="0.9" fill="none"/>
<circle cx="146.42" cy="311.02" r="2.4" fill="url(#g_blu)"/>
<path d="M165.44 302.75V305.48M163.84 302.75h3.2M163.84 305.48h3.2" stroke="#3d7fc9" stroke-width="0.9" fill="none"/>
<circle cx="165.44" cy="304.12" r="2.4" fill="url(#g_blu)"/>
<path d="M184.46 296.54V299.27M182.86 296.54h3.2M182.86 299.27h3.2" stroke="#3d7fc9" stroke-width="0.9" fill="none"/>
<circle cx="184.46" cy="297.9" r="2.4" fill="url(#g_blu)"/>
<path d="M203.48 288.96V293.74M201.88 288.96h3.2M201.88 293.74h3.2" stroke="#3d7fc9" stroke-width="0.9" fill="none"/>
<circle cx="203.48" cy="291.35" r="2.4" fill="url(#g_blu)"/>
<path d="M51.32 332.26V335.67M49.72 332.26h3.2M49.72 335.67h3.2" stroke="#d3282c" stroke-width="0.9" fill="none"/>
<circle cx="51.32" cy="333.97" r="2.4" fill="url(#g_red)"/>
<path d="M70.34 320.92V325.02M68.74 320.92h3.2M68.74 325.02h3.2" stroke="#d3282c" stroke-width="0.9" fill="none"/>
<circle cx="70.34" cy="322.97" r="2.4" fill="url(#g_red)"/>
<path d="M89.36 310.33V313.07M87.76 310.33h3.2M87.76 313.07h3.2" stroke="#d3282c" stroke-width="0.9" fill="none"/>
<circle cx="89.36" cy="311.7" r="2.4" fill="url(#g_red)"/>
<path d="M108.38 296.95V299.68M106.78 296.95h3.2M106.78 299.68h3.2" stroke="#d3282c" stroke-width="0.9" fill="none"/>
<circle cx="108.38" cy="298.31" r="2.4" fill="url(#g_red)"/>
<path d="M127.4 279.6V285.75M125.8 279.6h3.2M125.8 285.75h3.2" stroke="#d3282c" stroke-width="0.9" fill="none"/>
<circle cx="127.4" cy="282.67" r="2.4" fill="url(#g_red)"/>
<path d="M146.42 263.89V268.67M144.82 263.89h3.2M144.82 268.67h3.2" stroke="#d3282c" stroke-width="0.9" fill="none"/>
<circle cx="146.42" cy="266.28" r="2.4" fill="url(#g_red)"/>
<path d="M165.44 243.67V247.77M163.84 243.67h3.2M163.84 247.77h3.2" stroke="#d3282c" stroke-width="0.9" fill="none"/>
<circle cx="165.44" cy="245.72" r="2.4" fill="url(#g_red)"/>
<path d="M184.46 231.72V233.77M182.86 231.72h3.2M182.86 233.77h3.2" stroke="#d3282c" stroke-width="0.9" fill="none"/>
<circle cx="184.46" cy="232.74" r="2.4" fill="url(#g_red)"/>
<path d="M203.48 207.54V212.32M201.88 207.54h3.2M201.88 212.32h3.2" stroke="#d3282c" stroke-width="0.9" fill="none"/>
<circle cx="203.48" cy="209.93" r="2.4" fill="url(#g_red)"/>
<line x1="51.32" y1="339.02" x2="203.48" y2="281.31" stroke="#1e1e1e" stroke-width="1.35" stroke-dasharray="2.7,1.9"/>
<line x1="51.32" y1="339.7" x2="203.48" y2="292.23" stroke="#1e1e1e" stroke-width="1.35" stroke-dasharray="2.7,1.9"/>
<line x1="51.32" y1="339.36" x2="203.48" y2="217.1" stroke="#1e1e1e" stroke-width="1.35" stroke-dasharray="2.7,1.9"/>
<circle cx="49.2" cy="206.3" r="2.4" fill="url(#g_red)"/>
<text x="61.7" y="209.3" font-size="8.6" text-anchor="start" >NiFe/PVEO/Pd</text>
<circle cx="49.2" cy="217.2" r="2.4" fill="url(#g_sal)"/>
<text x="61.7" y="220.2" font-size="8.6" text-anchor="start" >NiFe/Pd</text>
<circle cx="49.2" cy="228.1" r="2.4" fill="url(#g_blu)"/>
<text x="61.7" y="231.1" font-size="8.6" text-anchor="start" >NiFe only</text>
<line x1="39.1" y1="239.2" x2="58" y2="239.2" stroke="#1e1e1e" stroke-width="1.35" stroke-dasharray="3,2.2"/>
<text x="61.7" y="242.2" font-size="8.6" text-anchor="start" >Linear Fit</text>
<text x="239" y="177.7" font-size="14.5">e</text>
<rect x="267.5" y="194.8" width="190.7" height="153.2" fill="none" stroke="#2e2e2e" stroke-width="1.35"/>
<path d="M280.21 348v-3.1M280.21 194.8v3.1M331.07 348v-3.1M331.07 194.8v3.1M381.92 348v-3.1M381.92 194.8v3.1M432.77 348v-3.1M432.77 194.8v3.1" stroke="#2e2e2e" stroke-width="1.35" fill="none"/>
<text x="280.21" y="359.2" font-size="10" text-anchor="middle">0</text>
<text x="331.07" y="359.2" font-size="10" text-anchor="middle">1000</text>
<text x="381.92" y="359.2" font-size="10" text-anchor="middle">2000</text>
<text x="432.77" y="359.2" font-size="10" text-anchor="middle">3000</text>
<path d="M267.5 348h3.1M458.2 348h-3.1M267.5 332.68h3.1M458.2 332.68h-3.1M267.5 317.36h3.1M458.2 317.36h-3.1M267.5 302.04h3.1M458.2 302.04h-3.1M267.5 286.72h3.1M458.2 286.72h-3.1M267.5 271.4h3.1M458.2 271.4h-3.1M267.5 256.08h3.1M458.2 256.08h-3.1M267.5 240.76h3.1M458.2 240.76h-3.1M267.5 225.44h3.1M458.2 225.44h-3.1M267.5 210.12h3.1M458.2 210.12h-3.1M267.5 194.8h3.1M458.2 194.8h-3.1" stroke="#2e2e2e" stroke-width="1.35" fill="none"/>
<text x="264.5" y="351.2" font-size="10" text-anchor="end">0</text>
<text x="264.5" y="335.88" font-size="10" text-anchor="end">2</text>
<text x="264.5" y="320.56" font-size="10" text-anchor="end">4</text>
<text x="264.5" y="305.24" font-size="10" text-anchor="end">6</text>
<text x="264.5" y="289.92" font-size="10" text-anchor="end">8</text>
<text x="264.5" y="274.6" font-size="10" text-anchor="end">10</text>
<text x="264.5" y="259.28" font-size="10" text-anchor="end">12</text>
<text x="264.5" y="243.96" font-size="10" text-anchor="end">14</text>
<text x="264.5" y="228.64" font-size="10" text-anchor="end">16</text>
<text x="264.5" y="213.32" font-size="10" text-anchor="end">18</text>
<text x="264.5" y="198" font-size="10" text-anchor="end">20</text>
<text transform="translate(248.6,271.2) rotate(-90)" x="0" y="0" font-size="12.9" text-anchor="middle" >Frequency (GHz)</text>
<text x="362.9" y="377.4" font-size="12.9" text-anchor="middle" ><tspan font-style="italic">H</tspan><tspan font-style="italic" font-size="9" dy="2.6">res</tspan><tspan dy="-2.6"> (Oe)</tspan></text>
<path d="M282.71 328.85V336.51M281.11 328.85h3.2M281.11 336.51h3.2" stroke="#3d7fc9" stroke-width="0.9" fill="none"/>
<circle cx="282.71" cy="332.68" r="2.4" fill="url(#g_blu)"/>
<path d="M289.98 312.76V321.96M288.38 312.76h3.2M288.38 321.96h3.2" stroke="#3d7fc9" stroke-width="0.9" fill="none"/>
<circle cx="289.98" cy="317.36" r="2.4" fill="url(#g_blu)"/>
<path d="M301.27 300.89V303.19M299.67 300.89h3.2M299.67 303.19h3.2" stroke="#3d7fc9" stroke-width="0.9" fill="none"/>
<circle cx="301.27" cy="302.04" r="2.4" fill="url(#g_blu)"/>
<path d="M316.32 281.36V292.08M314.72 281.36h3.2M314.72 292.08h3.2" stroke="#3d7fc9" stroke-width="0.9" fill="none"/>
<circle cx="316.32" cy="286.72" r="2.4" fill="url(#g_blu)"/>
<path d="M334.22 269.87V272.93M332.62 269.87h3.2M332.62 272.93h3.2" stroke="#3d7fc9" stroke-width="0.9" fill="none"/>
<circle cx="334.22" cy="271.4" r="2.4" fill="url(#g_blu)"/>
<path d="M355.22 254.55V257.61M353.62 254.55h3.2M353.62 257.61h3.2" stroke="#3d7fc9" stroke-width="0.9" fill="none"/>
<circle cx="355.22" cy="256.08" r="2.4" fill="url(#g_blu)"/>
<path d="M377.6 234.63V246.89M376 234.63h3.2M376 246.89h3.2" stroke="#3d7fc9" stroke-width="0.9" fill="none"/>
<circle cx="377.6" cy="240.76" r="2.4" fill="url(#g_blu)"/>
<path d="M402.52 223.91V226.97M400.92 223.91h3.2M400.92 226.97h3.2" stroke="#3d7fc9" stroke-width="0.9" fill="none"/>
<circle cx="402.52" cy="225.44" r="2.4" fill="url(#g_blu)"/>
<path d="M428.55 205.52V214.72M426.95 205.52h3.2M426.95 214.72h3.2" stroke="#3d7fc9" stroke-width="0.9" fill="none"/>
<circle cx="428.55" cy="210.12" r="2.4" fill="url(#g_blu)"/>
<path d="M282.25 328.85V336.51M280.65 328.85h3.2M280.65 336.51h3.2" stroke="#f2735e" stroke-width="0.9" fill="none"/>
<circle cx="282.25" cy="332.68" r="2.4" fill="url(#g_sal)"/>
<path d="M289.88 315.06V319.66M288.28 315.06h3.2M288.28 319.66h3.2" stroke="#f2735e" stroke-width="0.9" fill="none"/>
<circle cx="289.88" cy="317.36" r="2.4" fill="url(#g_sal)"/>
<path d="M301.57 301.27V302.81M299.97 301.27h3.2M299.97 302.81h3.2" stroke="#f2735e" stroke-width="0.9" fill="none"/>
<circle cx="301.57" cy="302.04" r="2.4" fill="url(#g_sal)"/>
<path d="M318 282.12V291.32M316.4 282.12h3.2M316.4 291.32h3.2" stroke="#f2735e" stroke-width="0.9" fill="none"/>
<circle cx="318" cy="286.72" r="2.4" fill="url(#g_sal)"/>
<path d="M337.17 270.63V272.17M335.57 270.63h3.2M335.57 272.17h3.2" stroke="#f2735e" stroke-width="0.9" fill="none"/>
<circle cx="337.17" cy="271.4" r="2.4" fill="url(#g_sal)"/>
<path d="M359.9 253.02V259.14M358.3 253.02h3.2M358.3 259.14h3.2" stroke="#f2735e" stroke-width="0.9" fill="none"/>
<circle cx="359.9" cy="256.08" r="2.4" fill="url(#g_sal)"/>
<path d="M384.11 234.63V246.89M382.51 234.63h3.2M382.51 246.89h3.2" stroke="#f2735e" stroke-width="0.9" fill="none"/>
<circle cx="384.11" cy="240.76" r="2.4" fill="url(#g_sal)"/>
<path d="M409.53 224.29V226.59M407.93 224.29h3.2M407.93 226.59h3.2" stroke="#f2735e" stroke-width="0.9" fill="none"/>
<circle cx="409.53" cy="225.44" r="2.4" fill="url(#g_sal)"/>
<path d="M436.84 205.52V214.72M435.24 205.52h3.2M435.24 214.72h3.2" stroke="#f2735e" stroke-width="0.9" fill="none"/>
<circle cx="436.84" cy="210.12" r="2.4" fill="url(#g_sal)"/>
<path d="M282.5 329.62V335.74M280.9 329.62h3.2M280.9 335.74h3.2" stroke="#d3282c" stroke-width="0.9" fill="none"/>
<circle cx="282.5" cy="332.68" r="2.4" fill="url(#g_red)"/>
<path d="M290.13 315.06V319.66M288.53 315.06h3.2M288.53 319.66h3.2" stroke="#d3282c" stroke-width="0.9" fill="none"/>
<circle cx="290.13" cy="317.36" r="2.4" fill="url(#g_red)"/>
<path d="M301.83 301.27V302.81M300.23 301.27h3.2M300.23 302.81h3.2" stroke="#d3282c" stroke-width="0.9" fill="none"/>
<circle cx="301.83" cy="302.04" r="2.4" fill="url(#g_red)"/>
<path d="M318.66 282.89V290.55M317.06 282.89h3.2M317.06 290.55h3.2" stroke="#d3282c" stroke-width="0.9" fill="none"/>
<circle cx="318.66" cy="286.72" r="2.4" fill="url(#g_red)"/>
<path d="M338.24 270.63V272.17M336.64 270.63h3.2M336.64 272.17h3.2" stroke="#d3282c" stroke-width="0.9" fill="none"/>
<circle cx="338.24" cy="271.4" r="2.4" fill="url(#g_red)"/>
<path d="M361.32 253.02V259.14M359.72 253.02h3.2M359.72 259.14h3.2" stroke="#d3282c" stroke-width="0.9" fill="none"/>
<circle cx="361.32" cy="256.08" r="2.4" fill="url(#g_red)"/>
<path d="M386.45 234.63V246.89M384.85 234.63h3.2M384.85 246.89h3.2" stroke="#d3282c" stroke-width="0.9" fill="none"/>
<circle cx="386.45" cy="240.76" r="2.4" fill="url(#g_red)"/>
<path d="M413.96 224.29V226.59M412.36 224.29h3.2M412.36 226.59h3.2" stroke="#d3282c" stroke-width="0.9" fill="none"/>
<circle cx="413.96" cy="225.44" r="2.4" fill="url(#g_red)"/>
<path d="M442.69 203.99V216.25M441.09 203.99h3.2M441.09 216.25h3.2" stroke="#d3282c" stroke-width="0.9" fill="none"/>
<circle cx="442.69" cy="210.12" r="2.4" fill="url(#g_red)"/>
<polyline points="282.71,332.68 283.05,331.65 283.41,330.62 283.8,329.59 284.21,328.56 284.64,327.53 285.09,326.5 285.56,325.47 286.06,324.44 286.57,323.41 287.11,322.38 287.66,321.35 288.24,320.32 288.83,319.29 289.45,318.26 290.09,317.23 290.74,316.2 291.41,315.17 292.11,314.14 292.82,313.11 293.55,312.08 294.3,311.05 295.07,310.02 295.86,308.99 296.67,307.96 297.49,306.93 298.33,305.9 299.19,304.87 300.06,303.84 300.96,302.81 301.87,301.78 302.79,300.75 303.74,299.72 304.7,298.69 305.67,297.66 306.66,296.63 307.67,295.6 308.69,294.57 309.73,293.54 310.78,292.51 311.85,291.48 312.93,290.45 314.03,289.42 315.14,288.39 316.26,287.36 317.4,286.33 318.55,285.3 319.72,284.27 320.89,283.24 322.09,282.21 323.29,281.18 324.51,280.15 325.74,279.12 326.98,278.09 328.23,277.06 329.5,276.03 330.78,275 332.07,273.97 333.37,272.94 334.68,271.91 336,270.89 337.33,269.86 338.68,268.83 340.03,267.8 341.4,266.77 342.77,265.74 344.16,264.71 345.56,263.68 346.96,262.65 348.38,261.62 349.8,260.59 351.23,259.56 352.68,258.53 354.13,257.5 355.59,256.47 357.06,255.44 358.53,254.41 360.02,253.38 361.52,252.35 363.02,251.32 364.53,250.29 366.05,249.26 367.57,248.23 369.11,247.2 370.65,246.17 372.2,245.14 373.76,244.11 375.32,243.08 376.89,242.05 378.47,241.02 380.05,239.99 381.64,238.96 383.24,237.93 384.85,236.9 386.46,235.87 388.07,234.84 389.7,233.81 391.33,232.78 392.96,231.75 394.6,230.72 396.25,229.69 397.91,228.66 399.56,227.63 401.23,226.6 402.9,225.57 404.57,224.54 406.26,223.51 407.94,222.48 409.63,221.45 411.33,220.42 413.03,219.39 414.74,218.36 416.45,217.33 418.17,216.3 419.89,215.27 421.61,214.24 423.34,213.21 425.08,212.18 426.82,211.15 428.56,210.12" fill="none" stroke="#1e1e1e" stroke-width="1.2" stroke-dasharray="2.6,1.6"/>
<polyline points="282.71,332.68 283.05,331.65 283.42,330.62 283.8,329.59 284.21,328.56 284.65,327.53 285.1,326.5 285.57,325.47 286.07,324.44 286.59,323.41 287.12,322.38 287.68,321.35 288.26,320.32 288.86,319.29 289.48,318.26 290.13,317.23 290.79,316.2 291.47,315.17 292.17,314.14 292.89,313.11 293.64,312.08 294.4,311.05 295.18,310.02 295.98,308.99 296.79,307.96 297.63,306.93 298.49,305.9 299.36,304.87 300.26,303.84 301.17,302.81 302.1,301.78 303.04,300.75 304.01,299.72 304.99,298.69 305.99,297.66 307.01,296.63 308.04,295.6 309.09,294.57 310.16,293.54 311.24,292.51 312.34,291.48 313.46,290.45 314.59,289.42 315.74,288.39 316.9,287.36 318.08,286.33 319.27,285.3 320.48,284.27 321.7,283.24 322.94,282.21 324.19,281.18 325.46,280.15 326.74,279.12 328.04,278.09 329.34,277.06 330.67,276.03 332,275 333.35,273.97 334.71,272.94 336.09,271.91 337.47,270.89 338.87,269.86 340.29,268.83 341.71,267.8 343.15,266.77 344.6,265.74 346.06,264.71 347.53,263.68 349.02,262.65 350.51,261.62 352.02,260.59 353.54,259.56 355.06,258.53 356.6,257.5 358.15,256.47 359.71,255.44 361.28,254.41 362.86,253.38 364.45,252.35 366.06,251.32 367.67,250.29 369.29,249.26 370.92,248.23 372.55,247.2 374.2,246.17 375.86,245.14 377.53,244.11 379.2,243.08 380.89,242.05 382.58,241.02 384.28,239.99 385.99,238.96 387.71,237.93 389.43,236.9 391.17,235.87 392.91,234.84 394.66,233.81 396.42,232.78 398.18,231.75 399.95,230.72 401.73,229.69 403.52,228.66 405.32,227.63 407.12,226.6 408.93,225.57 410.74,224.54 412.57,223.51 414.39,222.48 416.23,221.45 418.07,220.42 419.92,219.39 421.78,218.36 423.64,217.33 425.51,216.3 427.38,215.27 429.26,214.24 431.15,213.21 433.04,212.18 434.93,211.15 436.84,210.12" fill="none" stroke="#1e1e1e" stroke-width="1.2" stroke-dasharray="2.6,1.6"/>
<polyline points="282.71,332.68 283.05,331.65 283.42,330.62 283.81,329.59 284.22,328.56 284.65,327.53 285.1,326.5 285.58,325.47 286.08,324.44 286.6,323.41 287.14,322.38 287.7,321.35 288.28,320.32 288.88,319.29 289.51,318.26 290.15,317.23 290.82,316.2 291.51,315.17 292.21,314.14 292.94,313.11 293.69,312.08 294.45,311.05 295.24,310.02 296.05,308.99 296.88,307.96 297.72,306.93 298.59,305.9 299.47,304.87 300.38,303.84 301.3,302.81 302.24,301.78 303.2,300.75 304.18,299.72 305.18,298.69 306.19,297.66 307.22,296.63 308.28,295.6 309.34,294.57 310.43,293.54 311.53,292.51 312.65,291.48 313.79,290.45 314.95,289.42 316.12,288.39 317.31,287.36 318.51,286.33 319.73,285.3 320.97,284.27 322.22,283.24 323.49,282.21 324.77,281.18 326.07,280.15 327.39,279.12 328.72,278.09 330.06,277.06 331.42,276.03 332.8,275 334.19,273.97 335.59,272.94 337.01,271.91 338.44,270.89 339.88,269.86 341.34,268.83 342.81,267.8 344.3,266.77 345.8,265.74 347.31,264.71 348.84,263.68 350.37,262.65 351.93,261.62 353.49,260.59 355.06,259.56 356.65,258.53 358.25,257.5 359.86,256.47 361.49,255.44 363.12,254.41 364.77,253.38 366.43,252.35 368.1,251.32 369.78,250.29 371.47,249.26 373.17,248.23 374.88,247.2 376.61,246.17 378.34,245.14 380.09,244.11 381.84,243.08 383.6,242.05 385.38,241.02 387.16,239.99 388.96,238.96 390.76,237.93 392.58,236.9 394.4,235.87 396.23,234.84 398.07,233.81 399.92,232.78 401.78,231.75 403.65,230.72 405.52,229.69 407.41,228.66 409.3,227.63 411.2,226.6 413.11,225.57 415.03,224.54 416.96,223.51 418.89,222.48 420.84,221.45 422.79,220.42 424.74,219.39 426.71,218.36 428.68,217.33 430.66,216.3 432.65,215.27 434.64,214.24 436.65,213.21 438.65,212.18 440.67,211.15 442.69,210.12" fill="none" stroke="#1e1e1e" stroke-width="1.2" stroke-dasharray="2.6,1.6"/>
<circle cx="291.6" cy="204" r="2.4" fill="url(#g_blu)"/>
<text x="304" y="207" font-size="8.5" text-anchor="start" >NiFe only</text>
<circle cx="291.6" cy="214.8" r="2.4" fill="url(#g_sal)"/>
<text x="304" y="217.8" font-size="8.5" text-anchor="start" >NiFe/Pd</text>
<circle cx="291.6" cy="225.6" r="2.4" fill="url(#g_red)"/>
<text x="304" y="228.6" font-size="8.5" text-anchor="start" >NiFe/PVEO/Pd</text>
<line x1="281.5" y1="236.6" x2="299.6" y2="236.6" stroke="#1e1e1e" stroke-width="1.35" stroke-dasharray="3,2.2"/>
<text x="304" y="239.6" font-size="8.5" text-anchor="start" >Kittel Fit</text>
<text x="468.5" y="177.7" font-size="14.5">f</text>
<rect x="489.3" y="196.9" width="189.7" height="152.7" fill="none" stroke="#2e2e2e" stroke-width="1.35"/>
<path d="M489.3 349.6v-3.1M489.3 196.9v3.1M508.27 349.6v-3.1M508.27 196.9v3.1M527.24 349.6v-3.1M527.24 196.9v3.1M546.21 349.6v-3.1M546.21 196.9v3.1M565.18 349.6v-3.1M565.18 196.9v3.1M584.15 349.6v-3.1M584.15 196.9v3.1M603.12 349.6v-3.1M603.12 196.9v3.1M622.09 349.6v-3.1M622.09 196.9v3.1M641.06 349.6v-3.1M641.06 196.9v3.1M660.03 349.6v-3.1M660.03 196.9v3.1M679 349.6v-3.1M679 196.9v3.1" stroke="#2e2e2e" stroke-width="1.35" fill="none"/>
<text x="489.3" y="360.8" font-size="10" text-anchor="middle">0</text>
<text x="508.27" y="360.8" font-size="10" text-anchor="middle">2</text>
<text x="527.24" y="360.8" font-size="10" text-anchor="middle">4</text>
<text x="546.21" y="360.8" font-size="10" text-anchor="middle">6</text>
<text x="565.18" y="360.8" font-size="10" text-anchor="middle">8</text>
<text x="584.15" y="360.8" font-size="10" text-anchor="middle">10</text>
<text x="603.12" y="360.8" font-size="10" text-anchor="middle">12</text>
<text x="622.09" y="360.8" font-size="10" text-anchor="middle">14</text>
<text x="641.06" y="360.8" font-size="10" text-anchor="middle">16</text>
<text x="660.03" y="360.8" font-size="10" text-anchor="middle">18</text>
<text x="679" y="360.8" font-size="10" text-anchor="middle">20</text>
<path d="M489.3 340.62h3.1M679 340.62h-3.1M489.3 322.65h3.1M679 322.65h-3.1M489.3 304.69h3.1M679 304.69h-3.1M489.3 286.72h3.1M679 286.72h-3.1M489.3 268.76h3.1M679 268.76h-3.1M489.3 250.79h3.1M679 250.79h-3.1M489.3 232.83h3.1M679 232.83h-3.1M489.3 214.86h3.1M679 214.86h-3.1M489.3 196.9h3.1M679 196.9h-3.1" stroke="#2e2e2e" stroke-width="1.35" fill="none"/>
<text x="485.9" y="343.82" font-size="10" text-anchor="end">1</text>
<text x="485.9" y="325.85" font-size="10" text-anchor="end">2</text>
<text x="485.9" y="307.89" font-size="10" text-anchor="end">3</text>
<text x="485.9" y="289.92" font-size="10" text-anchor="end">4</text>
<text x="485.9" y="271.96" font-size="10" text-anchor="end">5</text>
<text x="485.9" y="253.99" font-size="10" text-anchor="end">6</text>
<text x="485.9" y="236.03" font-size="10" text-anchor="end">7</text>
<text x="485.9" y="218.06" font-size="10" text-anchor="end">8</text>
<text x="485.9" y="200.1" font-size="10" text-anchor="end">9</text>
<text transform="translate(474.2,273.2) rotate(-90)" x="0" y="0" font-size="12.9" text-anchor="middle" >&#916;<tspan font-style="italic">H</tspan> (mT)</text>
<text x="584.2" y="377.6" font-size="12.9" text-anchor="middle" >Frequency (GHz)</text>
<path d="M508.27 331.64V340.62M506.67 331.64h3.2M506.67 340.62h3.2" stroke="#3d7fc9" stroke-width="0.9" fill="none"/>
<circle cx="508.27" cy="336.13" r="2.4" fill="url(#g_blu)"/>
<path d="M527.24 317.26V328.04M525.64 317.26h3.2M525.64 328.04h3.2" stroke="#3d7fc9" stroke-width="0.9" fill="none"/>
<circle cx="527.24" cy="322.65" r="2.4" fill="url(#g_blu)"/>
<path d="M546.21 303.79V310.98M544.61 303.79h3.2M544.61 310.98h3.2" stroke="#3d7fc9" stroke-width="0.9" fill="none"/>
<circle cx="546.21" cy="307.38" r="2.4" fill="url(#g_blu)"/>
<path d="M565.18 287.62V296.6M563.58 287.62h3.2M563.58 296.6h3.2" stroke="#3d7fc9" stroke-width="0.9" fill="none"/>
<circle cx="565.18" cy="292.11" r="2.4" fill="url(#g_blu)"/>
<path d="M584.15 267.86V282.23M582.55 267.86h3.2M582.55 282.23h3.2" stroke="#3d7fc9" stroke-width="0.9" fill="none"/>
<circle cx="584.15" cy="275.05" r="2.4" fill="url(#g_blu)"/>
<path d="M603.12 253.49V266.06M601.52 253.49h3.2M601.52 266.06h3.2" stroke="#3d7fc9" stroke-width="0.9" fill="none"/>
<circle cx="603.12" cy="259.78" r="2.4" fill="url(#g_blu)"/>
<path d="M622.09 237.32V248.1M620.49 237.32h3.2M620.49 248.1h3.2" stroke="#3d7fc9" stroke-width="0.9" fill="none"/>
<circle cx="622.09" cy="242.71" r="2.4" fill="url(#g_blu)"/>
<path d="M641.06 218.46V227.44M639.46 218.46h3.2M639.46 227.44h3.2" stroke="#3d7fc9" stroke-width="0.9" fill="none"/>
<circle cx="641.06" cy="222.95" r="2.4" fill="url(#g_blu)"/>
<path d="M660.03 208.58V215.76M658.43 208.58h3.2M658.43 215.76h3.2" stroke="#3d7fc9" stroke-width="0.9" fill="none"/>
<circle cx="660.03" cy="212.17" r="2.4" fill="url(#g_blu)"/>
<path d="M508.27 331.81V339M506.67 331.81h3.2M506.67 339h3.2" stroke="#d3282c" stroke-width="0.9" fill="none"/>
<circle cx="508.27" cy="335.41" r="2.4" fill="url(#g_red)"/>
<path d="M527.24 316.9V327.68M525.64 316.9h3.2M525.64 327.68h3.2" stroke="#d3282c" stroke-width="0.9" fill="none"/>
<circle cx="527.24" cy="322.29" r="2.4" fill="url(#g_red)"/>
<path d="M546.21 303.79V310.98M544.61 303.79h3.2M544.61 310.98h3.2" stroke="#d3282c" stroke-width="0.9" fill="none"/>
<circle cx="546.21" cy="307.38" r="2.4" fill="url(#g_red)"/>
<path d="M565.18 286.36V295.35M563.58 286.36h3.2M563.58 295.35h3.2" stroke="#d3282c" stroke-width="0.9" fill="none"/>
<circle cx="565.18" cy="290.86" r="2.4" fill="url(#g_red)"/>
<path d="M584.15 268.4V282.77M582.55 268.4h3.2M582.55 282.77h3.2" stroke="#d3282c" stroke-width="0.9" fill="none"/>
<circle cx="584.15" cy="275.59" r="2.4" fill="url(#g_red)"/>
<path d="M603.12 253.49V267.86M601.52 253.49h3.2M601.52 267.86h3.2" stroke="#d3282c" stroke-width="0.9" fill="none"/>
<circle cx="603.12" cy="260.67" r="2.4" fill="url(#g_red)"/>
<path d="M622.09 237.86V248.64M620.49 237.86h3.2M620.49 248.64h3.2" stroke="#d3282c" stroke-width="0.9" fill="none"/>
<circle cx="622.09" cy="243.25" r="2.4" fill="url(#g_red)"/>
<path d="M641.06 222.23V231.21M639.46 222.23h3.2M639.46 231.21h3.2" stroke="#d3282c" stroke-width="0.9" fill="none"/>
<circle cx="641.06" cy="226.72" r="2.4" fill="url(#g_red)"/>
<path d="M660.03 203.19V217.56M658.43 203.19h3.2M658.43 217.56h3.2" stroke="#d3282c" stroke-width="0.9" fill="none"/>
<circle cx="660.03" cy="210.37" r="2.4" fill="url(#g_red)"/>
<line x1="508.27" y1="337.92" x2="660.03" y2="212.17" stroke="#1e1e1e" stroke-width="1.35" stroke-dasharray="2.7,1.9"/>
<circle cx="504.9" cy="207.9" r="2.4" fill="url(#g_blu)"/>
<text x="518.5" y="211.2" font-size="9.3" text-anchor="start" >NiFe/Au(5 nm)/PVEO/Pd</text>
<circle cx="504.9" cy="219.9" r="2.4" fill="url(#g_red)"/>
<text x="518.5" y="223.2" font-size="9.3" text-anchor="start" >NiFe only</text>
<line x1="493.3" y1="231.9" x2="515.8" y2="231.9" stroke="#1e1e1e" stroke-width="1.35" stroke-dasharray="3,2.2"/>
<text x="518.5" y="235.2" font-size="9.3" text-anchor="start" >Damping Fit</text>
<text x="3" y="394.8" font-size="14.5">g</text>
<rect x="32.6" y="406.2" width="189.7" height="151.9" fill="none" stroke="#2e2e2e" stroke-width="1.35"/>
<path d="M32.6 558.1v-3.1M32.6 406.2v3.1M51.57 558.1v-3.1M51.57 406.2v3.1M70.54 558.1v-3.1M70.54 406.2v3.1M89.51 558.1v-3.1M89.51 406.2v3.1M108.48 558.1v-3.1M108.48 406.2v3.1M127.45 558.1v-3.1M127.45 406.2v3.1M146.42 558.1v-3.1M146.42 406.2v3.1M165.39 558.1v-3.1M165.39 406.2v3.1M184.36 558.1v-3.1M184.36 406.2v3.1M203.33 558.1v-3.1M203.33 406.2v3.1M222.3 558.1v-3.1M222.3 406.2v3.1" stroke="#2e2e2e" stroke-width="1.35" fill="none"/>
<text x="32.6" y="569.3" font-size="10" text-anchor="middle">0</text>
<text x="51.57" y="569.3" font-size="10" text-anchor="middle">2</text>
<text x="70.54" y="569.3" font-size="10" text-anchor="middle">4</text>
<text x="89.51" y="569.3" font-size="10" text-anchor="middle">6</text>
<text x="108.48" y="569.3" font-size="10" text-anchor="middle">8</text>
<text x="127.45" y="569.3" font-size="10" text-anchor="middle">10</text>
<text x="146.42" y="569.3" font-size="10" text-anchor="middle">12</text>
<text x="165.39" y="569.3" font-size="10" text-anchor="middle">14</text>
<text x="184.36" y="569.3" font-size="10" text-anchor="middle">16</text>
<text x="203.33" y="569.3" font-size="10" text-anchor="middle">18</text>
<text x="222.3" y="569.3" font-size="10" text-anchor="middle">20</text>
<path d="M32.6 558.1h3.1M222.3 558.1h-3.1M32.6 524.49h3.1M222.3 524.49h-3.1M32.6 490.89h3.1M222.3 490.89h-3.1M32.6 457.28h3.1M222.3 457.28h-3.1M32.6 423.68h3.1M222.3 423.68h-3.1" stroke="#2e2e2e" stroke-width="1.35" fill="none"/>
<text x="29.3" y="561.3" font-size="10" text-anchor="end">0</text>
<text x="29.3" y="527.69" font-size="10" text-anchor="end">5</text>
<text x="29.3" y="494.09" font-size="10" text-anchor="end">10</text>
<text x="29.3" y="460.48" font-size="10" text-anchor="end">15</text>
<text x="29.3" y="426.88" font-size="10" text-anchor="end">20</text>
<text transform="translate(13.7,482.5) rotate(-90)" x="0" y="0" font-size="12.9" text-anchor="middle" >&#916;<tspan font-style="italic">H</tspan> (mT)</text>
<text x="127.5" y="586.3" font-size="12.9" text-anchor="middle" >Frequency (GHz)</text>
<path d="M51.57 548.35V551.04M49.97 548.35h3.2M49.97 551.04h3.2" stroke="#1d3a7f" stroke-width="0.9" fill="none"/>
<circle cx="51.57" cy="549.7" r="2.4" fill="url(#g_nav)"/>
<path d="M70.54 543.65V546.34M68.94 543.65h3.2M68.94 546.34h3.2" stroke="#1d3a7f" stroke-width="0.9" fill="none"/>
<circle cx="70.54" cy="544.99" r="2.4" fill="url(#g_nav)"/>
<path d="M89.51 537.26V539.95M87.91 537.26h3.2M87.91 539.95h3.2" stroke="#1d3a7f" stroke-width="0.9" fill="none"/>
<circle cx="89.51" cy="538.61" r="2.4" fill="url(#g_nav)"/>
<path d="M108.48 531.22V533.9M106.88 531.22h3.2M106.88 533.9h3.2" stroke="#1d3a7f" stroke-width="0.9" fill="none"/>
<circle cx="108.48" cy="532.56" r="2.4" fill="url(#g_nav)"/>
<path d="M127.45 524.49V529.87M125.85 524.49h3.2M125.85 529.87h3.2" stroke="#1d3a7f" stroke-width="0.9" fill="none"/>
<circle cx="127.45" cy="527.18" r="2.4" fill="url(#g_nav)"/>
<path d="M146.42 519.12V523.15M144.82 519.12h3.2M144.82 523.15h3.2" stroke="#1d3a7f" stroke-width="0.9" fill="none"/>
<circle cx="146.42" cy="521.13" r="2.4" fill="url(#g_nav)"/>
<path d="M165.39 513.74V517.77M163.79 513.74h3.2M163.79 517.77h3.2" stroke="#1d3a7f" stroke-width="0.9" fill="none"/>
<circle cx="165.39" cy="515.76" r="2.4" fill="url(#g_nav)"/>
<path d="M184.36 505.67V509.71M182.76 505.67h3.2M182.76 509.71h3.2" stroke="#1d3a7f" stroke-width="0.9" fill="none"/>
<circle cx="184.36" cy="507.69" r="2.4" fill="url(#g_nav)"/>
<path d="M203.33 501.24V507.96M201.73 501.24h3.2M201.73 507.96h3.2" stroke="#1d3a7f" stroke-width="0.9" fill="none"/>
<circle cx="203.33" cy="504.6" r="2.4" fill="url(#g_nav)"/>
<path d="M51.57 548.02V550.71M49.97 548.02h3.2M49.97 550.71h3.2" stroke="#4a93d3" stroke-width="0.9" fill="none"/>
<circle cx="51.57" cy="549.36" r="2.4" fill="url(#g_mbl)"/>
<path d="M70.54 542.98V545.67M68.94 542.98h3.2M68.94 545.67h3.2" stroke="#4a93d3" stroke-width="0.9" fill="none"/>
<circle cx="70.54" cy="544.32" r="2.4" fill="url(#g_mbl)"/>
<path d="M89.51 536.93V539.62M87.91 536.93h3.2M87.91 539.62h3.2" stroke="#4a93d3" stroke-width="0.9" fill="none"/>
<circle cx="89.51" cy="538.27" r="2.4" fill="url(#g_mbl)"/>
<path d="M108.48 530.54V533.23M106.88 530.54h3.2M106.88 533.23h3.2" stroke="#4a93d3" stroke-width="0.9" fill="none"/>
<circle cx="108.48" cy="531.89" r="2.4" fill="url(#g_mbl)"/>
<path d="M127.45 523.15V528.53M125.85 523.15h3.2M125.85 528.53h3.2" stroke="#4a93d3" stroke-width="0.9" fill="none"/>
<circle cx="127.45" cy="525.84" r="2.4" fill="url(#g_mbl)"/>
<path d="M146.42 518.44V522.48M144.82 518.44h3.2M144.82 522.48h3.2" stroke="#4a93d3" stroke-width="0.9" fill="none"/>
<circle cx="146.42" cy="520.46" r="2.4" fill="url(#g_mbl)"/>
<path d="M165.39 512.4V516.43M163.79 512.4h3.2M163.79 516.43h3.2" stroke="#4a93d3" stroke-width="0.9" fill="none"/>
<circle cx="165.39" cy="514.41" r="2.4" fill="url(#g_mbl)"/>
<path d="M184.36 504.33V508.36M182.76 504.33h3.2M182.76 508.36h3.2" stroke="#4a93d3" stroke-width="0.9" fill="none"/>
<circle cx="184.36" cy="506.35" r="2.4" fill="url(#g_mbl)"/>
<path d="M203.33 497.74V503.12M201.73 497.74h3.2M201.73 503.12h3.2" stroke="#4a93d3" stroke-width="0.9" fill="none"/>
<circle cx="203.33" cy="500.43" r="2.4" fill="url(#g_mbl)"/>
<path d="M51.57 547.35V550.03M49.97 547.35h3.2M49.97 550.03h3.2" stroke="#a6d8ee" stroke-width="0.9" fill="none"/>
<circle cx="51.57" cy="548.69" r="2.4" fill="url(#g_lbl)"/>
<path d="M70.54 542.64V545.33M68.94 542.64h3.2M68.94 545.33h3.2" stroke="#a6d8ee" stroke-width="0.9" fill="none"/>
<circle cx="70.54" cy="543.99" r="2.4" fill="url(#g_lbl)"/>
<path d="M89.51 536.59V539.28M87.91 536.59h3.2M87.91 539.28h3.2" stroke="#a6d8ee" stroke-width="0.9" fill="none"/>
<circle cx="89.51" cy="537.94" r="2.4" fill="url(#g_lbl)"/>
<path d="M108.48 529.87V532.56M106.88 529.87h3.2M106.88 532.56h3.2" stroke="#a6d8ee" stroke-width="0.9" fill="none"/>
<circle cx="108.48" cy="531.22" r="2.4" fill="url(#g_lbl)"/>
<path d="M127.45 520.46V525.84M125.85 520.46h3.2M125.85 525.84h3.2" stroke="#a6d8ee" stroke-width="0.9" fill="none"/>
<circle cx="127.45" cy="523.15" r="2.4" fill="url(#g_lbl)"/>
<path d="M146.42 517.1V521.13M144.82 517.1h3.2M144.82 521.13h3.2" stroke="#a6d8ee" stroke-width="0.9" fill="none"/>
<circle cx="146.42" cy="519.12" r="2.4" fill="url(#g_lbl)"/>
<path d="M165.39 510.38V514.41M163.79 510.38h3.2M163.79 514.41h3.2" stroke="#a6d8ee" stroke-width="0.9" fill="none"/>
<circle cx="165.39" cy="512.4" r="2.4" fill="url(#g_lbl)"/>
<path d="M184.36 498.95V505.67M182.76 498.95h3.2M182.76 505.67h3.2" stroke="#a6d8ee" stroke-width="0.9" fill="none"/>
<circle cx="184.36" cy="502.31" r="2.4" fill="url(#g_lbl)"/>
<path d="M203.33 493.91V500.63M201.73 493.91h3.2M201.73 500.63h3.2" stroke="#a6d8ee" stroke-width="0.9" fill="none"/>
<circle cx="203.33" cy="497.27" r="2.4" fill="url(#g_lbl)"/>
<path d="M51.57 545.33V548.02M49.97 545.33h3.2M49.97 548.02h3.2" stroke="#f2735e" stroke-width="0.9" fill="none"/>
<circle cx="51.57" cy="546.67" r="2.4" fill="url(#g_sal)"/>
<path d="M70.54 539.95V542.64M68.94 539.95h3.2M68.94 542.64h3.2" stroke="#f2735e" stroke-width="0.9" fill="none"/>
<circle cx="70.54" cy="541.3" r="2.4" fill="url(#g_sal)"/>
<path d="M89.51 533.23V535.92M87.91 533.23h3.2M87.91 535.92h3.2" stroke="#f2735e" stroke-width="0.9" fill="none"/>
<circle cx="89.51" cy="534.58" r="2.4" fill="url(#g_sal)"/>
<path d="M108.48 527.59V530.27M106.88 527.59h3.2M106.88 530.27h3.2" stroke="#f2735e" stroke-width="0.9" fill="none"/>
<circle cx="108.48" cy="528.93" r="2.4" fill="url(#g_sal)"/>
<path d="M127.45 519.25V524.63M125.85 519.25h3.2M125.85 524.63h3.2" stroke="#f2735e" stroke-width="0.9" fill="none"/>
<circle cx="127.45" cy="521.94" r="2.4" fill="url(#g_sal)"/>
<path d="M146.42 507.22V511.25M144.82 507.22h3.2M144.82 511.25h3.2" stroke="#f2735e" stroke-width="0.9" fill="none"/>
<circle cx="146.42" cy="509.24" r="2.4" fill="url(#g_sal)"/>
<path d="M165.39 499.96V502.65M163.79 499.96h3.2M163.79 502.65h3.2" stroke="#f2735e" stroke-width="0.9" fill="none"/>
<circle cx="165.39" cy="501.31" r="2.4" fill="url(#g_sal)"/>
<path d="M184.36 491.96V494.65M182.76 491.96h3.2M182.76 494.65h3.2" stroke="#f2735e" stroke-width="0.9" fill="none"/>
<circle cx="184.36" cy="493.31" r="2.4" fill="url(#g_sal)"/>
<path d="M203.33 483.49V490.22M201.73 483.49h3.2M201.73 490.22h3.2" stroke="#f2735e" stroke-width="0.9" fill="none"/>
<circle cx="203.33" cy="486.85" r="2.4" fill="url(#g_sal)"/>
<path d="M51.57 542.71V546.07M49.97 542.71h3.2M49.97 546.07h3.2" stroke="#d3282c" stroke-width="0.9" fill="none"/>
<circle cx="51.57" cy="544.39" r="2.4" fill="url(#g_red)"/>
<path d="M70.54 531.55V535.58M68.94 531.55h3.2M68.94 535.58h3.2" stroke="#d3282c" stroke-width="0.9" fill="none"/>
<circle cx="70.54" cy="533.57" r="2.4" fill="url(#g_red)"/>
<path d="M89.51 521.13V523.82M87.91 521.13h3.2M87.91 523.82h3.2" stroke="#d3282c" stroke-width="0.9" fill="none"/>
<circle cx="89.51" cy="522.48" r="2.4" fill="url(#g_red)"/>
<path d="M108.48 507.89V510.58M106.88 507.89h3.2M106.88 510.58h3.2" stroke="#d3282c" stroke-width="0.9" fill="none"/>
<circle cx="108.48" cy="509.24" r="2.4" fill="url(#g_red)"/>
<path d="M127.45 491.22V497.27M125.85 491.22h3.2M125.85 497.27h3.2" stroke="#d3282c" stroke-width="0.9" fill="none"/>
<circle cx="127.45" cy="494.25" r="2.4" fill="url(#g_red)"/>
<path d="M146.42 474.82V479.53M144.82 474.82h3.2M144.82 479.53h3.2" stroke="#d3282c" stroke-width="0.9" fill="none"/>
<circle cx="146.42" cy="477.18" r="2.4" fill="url(#g_red)"/>
<path d="M165.39 455.53V459.57M163.79 455.53h3.2M163.79 459.57h3.2" stroke="#d3282c" stroke-width="0.9" fill="none"/>
<circle cx="165.39" cy="457.55" r="2.4" fill="url(#g_red)"/>
<path d="M184.36 443.77V445.79M182.76 443.77h3.2M182.76 445.79h3.2" stroke="#d3282c" stroke-width="0.9" fill="none"/>
<circle cx="184.36" cy="444.78" r="2.4" fill="url(#g_red)"/>
<path d="M203.33 419.98V424.68M201.73 419.98h3.2M201.73 424.68h3.2" stroke="#d3282c" stroke-width="0.9" fill="none"/>
<circle cx="203.33" cy="422.33" r="2.4" fill="url(#g_red)"/>
<line x1="51.57" y1="550.03" x2="203.33" y2="503.66" stroke="#1e1e1e" stroke-width="1.35" stroke-dasharray="2.7,1.9"/>
<line x1="51.57" y1="550.03" x2="203.33" y2="500.97" stroke="#1e1e1e" stroke-width="1.35" stroke-dasharray="2.7,1.9"/>
<line x1="51.57" y1="550.03" x2="203.33" y2="497.27" stroke="#1e1e1e" stroke-width="1.35" stroke-dasharray="2.7,1.9"/>
<line x1="51.57" y1="549.36" x2="203.33" y2="487.53" stroke="#1e1e1e" stroke-width="1.35" stroke-dasharray="2.7,1.9"/>
<line x1="51.57" y1="550.03" x2="203.33" y2="429.72" stroke="#1e1e1e" stroke-width="1.35" stroke-dasharray="2.7,1.9"/>
<circle cx="47.8" cy="421.4" r="2.4" fill="url(#g_red)"/>
<text x="60" y="424.4" font-size="8.6" text-anchor="start" >111&#160; nm</text>
<circle cx="47.8" cy="432.25" r="2.4" fill="url(#g_sal)"/>
<text x="60" y="435.25" font-size="8.6" text-anchor="start" >86.7 nm</text>
<circle cx="47.8" cy="443.1" r="2.4" fill="url(#g_lbl)"/>
<text x="60" y="446.1" font-size="8.6" text-anchor="start" >54.8 nm</text>
<circle cx="47.8" cy="453.95" r="2.4" fill="url(#g_mbl)"/>
<text x="60" y="456.95" font-size="8.6" text-anchor="start" >44.3 nm</text>
<circle cx="47.8" cy="464.8" r="2.4" fill="url(#g_nav)"/>
<text x="60" y="467.8" font-size="8.6" text-anchor="start" >30.3 nm</text>
<line x1="38" y1="475.9" x2="56" y2="475.9" stroke="#1e1e1e" stroke-width="1.35" stroke-dasharray="3,2.2"/>
<text x="60" y="478.9" font-size="8.6" text-anchor="start" >Linear Fit</text>
<text x="239.2" y="394.9" font-size="14.5">h</text>
<line x1="291.19" y1="408.2" x2="291.19" y2="559.3" stroke="#c8c8c8" stroke-width="0.7" stroke-dasharray="1,1.2"/>
<line x1="326.92" y1="408.2" x2="326.92" y2="559.3" stroke="#c8c8c8" stroke-width="0.7" stroke-dasharray="1,1.2"/>
<line x1="362.64" y1="408.2" x2="362.64" y2="559.3" stroke="#c8c8c8" stroke-width="0.7" stroke-dasharray="1,1.2"/>
<line x1="398.37" y1="408.2" x2="398.37" y2="559.3" stroke="#c8c8c8" stroke-width="0.7" stroke-dasharray="1,1.2"/>
<line x1="434.09" y1="408.2" x2="434.09" y2="559.3" stroke="#c8c8c8" stroke-width="0.7" stroke-dasharray="1,1.2"/>
<line x1="264.4" y1="536.4" x2="452.4" y2="536.4" stroke="#111" stroke-width="1.15"/>
<rect x="264.4" y="408.2" width="188" height="151.1" fill="none" stroke="#2e2e2e" stroke-width="1.35"/>
<path d="M291.19 559.3v-3.1M291.19 408.2v3.1M326.92 559.3v-3.1M326.92 408.2v3.1M362.64 559.3v-3.1M362.64 408.2v3.1M398.37 559.3v-3.1M398.37 408.2v3.1M434.09 559.3v-3.1M434.09 408.2v3.1" stroke="#2e2e2e" stroke-width="1.35" fill="none"/>
<text x="291.19" y="570.5" font-size="10" text-anchor="middle">40</text>
<text x="326.92" y="570.5" font-size="10" text-anchor="middle">80</text>
<text x="362.64" y="570.5" font-size="10" text-anchor="middle">120</text>
<text x="398.37" y="570.5" font-size="10" text-anchor="middle">160</text>
<text x="434.09" y="570.5" font-size="10" text-anchor="middle">200</text>
<path d="M264.4 559.3h3.1M452.4 559.3h-3.1M264.4 536.05h3.1M452.4 536.05h-3.1M264.4 512.81h3.1M452.4 512.81h-3.1M264.4 489.56h3.1M452.4 489.56h-3.1M264.4 466.32h3.1M452.4 466.32h-3.1M264.4 443.07h3.1M452.4 443.07h-3.1M264.4 419.82h3.1M452.4 419.82h-3.1" stroke="#2e2e2e" stroke-width="1.35" fill="none"/>
<text x="261.1" y="562.5" font-size="10" text-anchor="end">&#8722;2</text>
<text x="261.1" y="539.25" font-size="10" text-anchor="end">0</text>
<text x="261.1" y="516.01" font-size="10" text-anchor="end">2</text>
<text x="261.1" y="492.76" font-size="10" text-anchor="end">4</text>
<text x="261.1" y="469.52" font-size="10" text-anchor="end">6</text>
<text x="261.1" y="446.27" font-size="10" text-anchor="end">8</text>
<text x="261.1" y="423.02" font-size="10" text-anchor="end">10</text>
<text x="264" y="405.8" font-size="9.6" text-anchor="start" >x10<tspan font-size="6.8" dy="-3.6">&#8722;3</tspan></text>
<text transform="translate(247.4,483.7) rotate(-90)" font-size="13" text-anchor="middle" style="font-family:Liberation Serif,serif">&#916;<tspan font-style="italic">&#945;</tspan></text>
<text x="358" y="585.8" font-size="12.9" text-anchor="middle" ><tspan font-style="italic">t</tspan><tspan font-style="italic" font-size="9" dy="2.6">PVEO</tspan><tspan dy="-2.6"> (nm)</tspan></text>
<path d="M282.53 533.15V556.39M280.83 533.15h3.4M280.83 556.39h3.4" stroke="#111" stroke-width="1.0" fill="none"/>
<rect x="280.03" y="542.27" width="5" height="5" fill="#111"/>
<path d="M295.03 531.75V548.03M293.33 531.75h3.4M293.33 548.03h3.4" stroke="#111" stroke-width="1.0" fill="none"/>
<rect x="292.53" y="537.39" width="5" height="5" fill="#111"/>
<path d="M304.41 527.1V538.73M302.71 527.1h3.4M302.71 538.73h3.4" stroke="#111" stroke-width="1.0" fill="none"/>
<rect x="301.91" y="530.42" width="5" height="5" fill="#111"/>
<path d="M326.02 508.51V511.3M324.32 508.51h3.4M324.32 511.3h3.4" stroke="#111" stroke-width="1.0" fill="none"/>
<rect x="323.52" y="507.4" width="5" height="5" fill="#111"/>
<path d="M354.6 434.58V444.58M352.9 434.58h3.4M352.9 444.58h3.4" stroke="#111" stroke-width="1.0" fill="none"/>
<rect x="352.1" y="437.08" width="5" height="5" fill="#111"/>
<path d="M372.47 426.8V440.74M370.77 426.8h3.4M370.77 440.74h3.4" stroke="#111" stroke-width="1.0" fill="none"/>
<rect x="369.97" y="431.27" width="5" height="5" fill="#111"/>
<path d="M384.97 422.73V439M383.27 422.73h3.4M383.27 439h3.4" stroke="#111" stroke-width="1.0" fill="none"/>
<rect x="382.47" y="428.37" width="5" height="5" fill="#111"/>
<path d="M389.44 424.7V435.86M387.74 424.7h3.4M387.74 435.86h3.4" stroke="#111" stroke-width="1.0" fill="none"/>
<rect x="386.94" y="427.78" width="5" height="5" fill="#111"/>
<path d="M434.09 425.05V433.19M432.39 425.05h3.4M432.39 433.19h3.4" stroke="#111" stroke-width="1.0" fill="none"/>
<rect x="431.59" y="426.62" width="5" height="5" fill="#111"/>
<text x="469.2" y="394.9" font-size="14.5">i</text>
<rect x="491" y="409.6" width="186.2" height="148.9" fill="none" stroke="#2e2e2e" stroke-width="1.35"/>
<path d="M491 558.5h3.1M677.2 558.5h-3.1M491 533.68h3.1M677.2 533.68h-3.1M491 508.87h3.1M677.2 508.87h-3.1M491 484.05h3.1M677.2 484.05h-3.1M491 459.23h3.1M677.2 459.23h-3.1M491 434.42h3.1M677.2 434.42h-3.1M491 409.6h3.1M677.2 409.6h-3.1" stroke="#2e2e2e" stroke-width="1.35" fill="none"/>
<text x="487.8" y="561.7" font-size="10" text-anchor="end">0.0</text>
<text x="487.8" y="536.88" font-size="10" text-anchor="end">0.5</text>
<text x="487.8" y="512.07" font-size="10" text-anchor="end">1.0</text>
<text x="487.8" y="487.25" font-size="10" text-anchor="end">1.5</text>
<text x="487.8" y="462.43" font-size="10" text-anchor="end">2.0</text>
<text x="487.8" y="437.62" font-size="10" text-anchor="end">2.5</text>
<text x="487.8" y="412.8" font-size="10" text-anchor="end">3.0</text>
<text transform="translate(469.6,484.2) rotate(-90)" font-size="12.8" text-anchor="middle"><tspan style="font-family:Liberation Serif,serif" font-style="italic" font-size="14.5">&#945;</tspan> (10<tspan font-size="8.6" dy="-5.2">&#8722;2</tspan><tspan dy="5.2">)</tspan></text>
<text x="583.9" y="588.6" font-size="12.4" text-anchor="middle" >Sample</text>
<rect x="496.6" y="484.05" width="8" height="74.45" fill="url(#g_bar)" stroke="#3f5387" stroke-width="0.6"/>
<path d="M500.6 481.07V487.03M498.8 481.07h3.6M498.8 487.03h3.6" stroke="#111" stroke-width="1.0" fill="none"/>
<rect x="524.5" y="489.51" width="8" height="68.99" fill="url(#g_bar)" stroke="#3f5387" stroke-width="0.6"/>
<path d="M528.5 487.52V491.5M526.7 487.52h3.6M526.7 491.5h3.6" stroke="#111" stroke-width="1.0" fill="none"/>
<rect x="552.4" y="522.76" width="8" height="35.74" fill="url(#g_bar)" stroke="#3f5387" stroke-width="0.6"/>
<path d="M556.4 521.77V523.76M554.6 521.77h3.6M554.6 523.76h3.6" stroke="#111" stroke-width="1.0" fill="none"/>
<rect x="580.2" y="525.74" width="8" height="32.76" fill="url(#g_bar)" stroke="#3f5387" stroke-width="0.6"/>
<path d="M584.2 525.25V526.24M582.4 525.25h3.6M582.4 526.24h3.6" stroke="#111" stroke-width="1.0" fill="none"/>
<rect x="608.1" y="525.74" width="8" height="32.76" fill="url(#g_bar)" stroke="#3f5387" stroke-width="0.6"/>
<path d="M612.1 524.75V526.73M610.3 524.75h3.6M610.3 526.73h3.6" stroke="#111" stroke-width="1.0" fill="none"/>
<rect x="636" y="525.99" width="8" height="32.51" fill="url(#g_bar)" stroke="#3f5387" stroke-width="0.6"/>
<path d="M640 525.49V526.49M638.2 525.49h3.6M638.2 526.49h3.6" stroke="#111" stroke-width="1.0" fill="none"/>
<rect x="664" y="525.99" width="8" height="32.51" fill="url(#g_bar)" stroke="#3f5387" stroke-width="0.6"/>
<path d="M668 525.49V526.49M666.2 525.49h3.6M666.2 526.49h3.6" stroke="#111" stroke-width="1.0" fill="none"/>
<text x="502.6" y="571.7" font-size="9.8" text-anchor="middle" >PVEO</text>
<text x="533.5" y="571.7" font-size="9.8" text-anchor="middle" >PVEO</text>
<text x="558.3" y="571.7" font-size="9.8" text-anchor="middle" >Pd</text>
<text x="584.9" y="571.7" font-size="9.8" text-anchor="middle" >Ag</text>
<text x="613.8" y="571.7" font-size="9.8" text-anchor="middle" >Au</text>
<text x="640.8" y="571.7" font-size="9.8" text-anchor="middle" >Au</text>
<text x="667.8" y="571.7" font-size="9.8" text-anchor="middle" >NiFe</text>
<text x="3" y="11.6" font-size="14.5">a</text>
</svg></body></html>
